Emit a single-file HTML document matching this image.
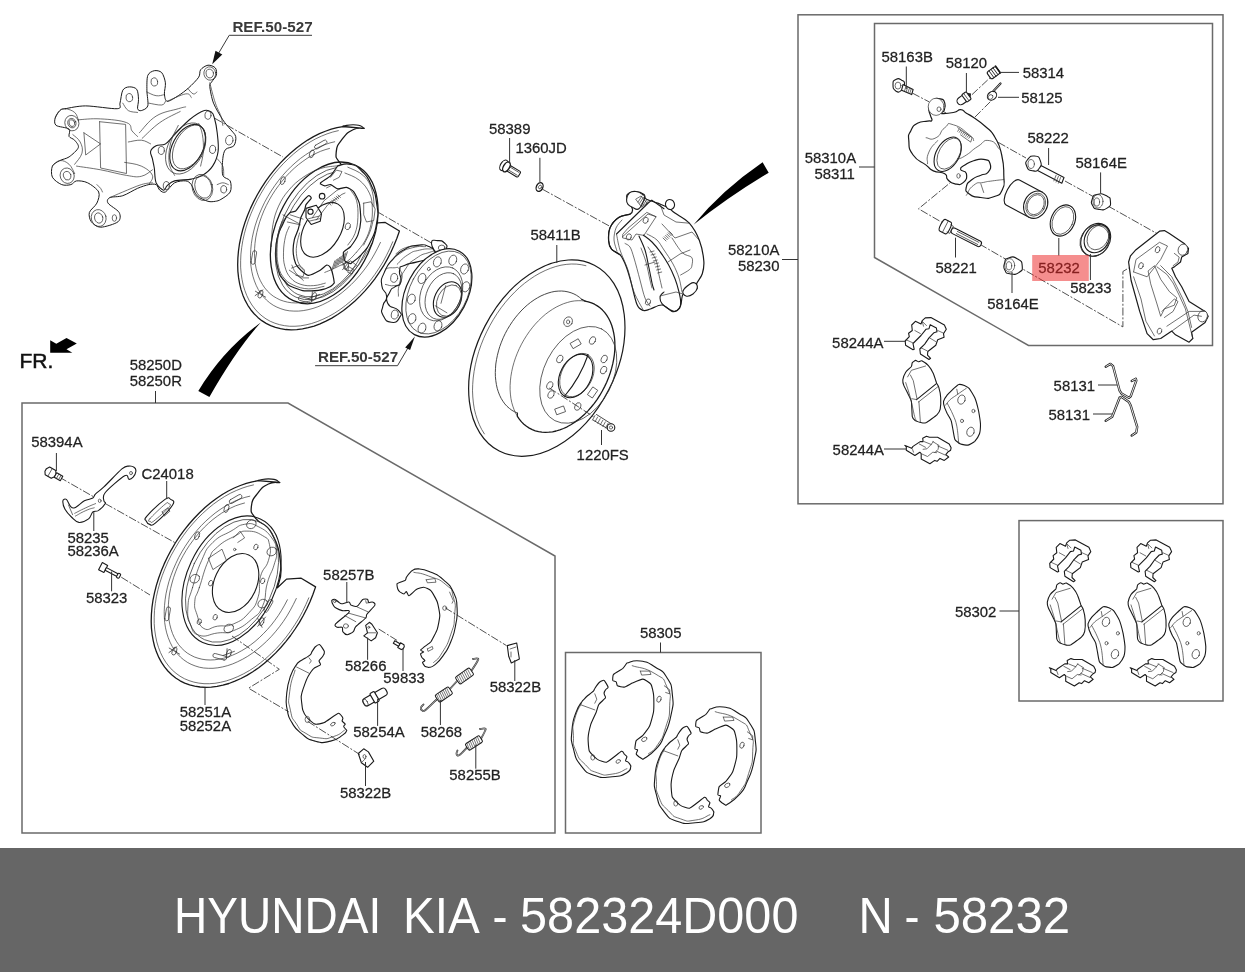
<!DOCTYPE html>
<html><head><meta charset="utf-8">
<style>
html,body{margin:0;padding:0;background:#fff;width:1245px;height:972px;overflow:hidden}
svg{display:block;will-change:transform}
text{font-family:"Liberation Sans",sans-serif}
.t{font-size:15.3px;fill:#222;stroke:#222;stroke-width:0.25}
.b{fill:none;stroke:#6a6a6a;stroke-width:1.5}
.l{fill:none;stroke:#333;stroke-width:1}
.d{fill:none;stroke:#333;stroke-width:0.85;stroke-dasharray:8 1.8 2 1.8}
.p{fill:none;stroke:#1a1a1a;stroke-width:1.1;stroke-linejoin:round;stroke-linecap:round}
.pw{fill:#fff;stroke:#1a1a1a;stroke-width:1.1;stroke-linejoin:round;stroke-linecap:round}
.f{fill:none;stroke:#333;stroke-width:0.7;stroke-linejoin:round;stroke-linecap:round}
.fw{fill:#fff;stroke:#333;stroke-width:0.7;stroke-linejoin:round;stroke-linecap:round}
</style></head><body>
<svg width="1245" height="972" viewBox="0 0 1245 972">
<rect x="0" y="0" width="1245" height="972" fill="#fff"/>
<polygon class="b" points="22,403 288,403 555,556 555,833 22,833"/>
<rect class="b" x="565.5" y="652.5" width="195.5" height="180.5"/>
<rect class="b" x="798" y="14.8" width="425" height="489"/>
<polygon class="b" points="874.5,23.5 1212.5,23.5 1212.5,345.5 1028.5,345.5 874.5,257.5"/>
<rect class="b" x="1019" y="520.6" width="204" height="180.4"/>
<!-- 10_disc.svg -->
<g id="disc">
<ellipse class="pw" cx="546.8" cy="358.1" rx="104.4" ry="69.6" transform="rotate(-62.9 546.8 358.1)"  style="stroke-width:1.2"/>
<path class="f" d="M484.4,433.9 L481.7,429.5 L479.4,424.8 L477.4,419.8 L475.7,414.5 L474.3,408.9 L473.4,403.1 L472.8,397.0 L472.5,390.8 L472.7,384.5 L473.2,378.0 L474.1,371.4 L475.3,364.8 L476.9,358.1 L478.8,351.4 L481.1,344.8 L483.7,338.3 L486.7,331.8 L489.9,325.5 L493.4,319.4 L497.2,313.4 L501.2,307.7 L505.5,302.2 L509.9,297.1 L514.6,292.2 L519.4,287.6 L524.4,283.4 L529.5,279.6 L534.7,276.1 L539.9,273.1 L545.2,270.5 L550.5,268.3 L555.8,266.5 L561.0,265.2 L566.2,264.4 L571.3,264.0 L576.3,264.1 L581.2,264.7 L585.9,265.7" />
<path class="f" d="M517.4,413.1 L514.6,411.8 L511.9,410.3 L509.4,408.4 L507.0,406.3 L504.8,403.9 L502.9,401.2 L501.1,398.3 L499.6,395.2 L498.3,391.8 L497.2,388.3 L496.4,384.6 L495.8,380.7 L495.4,376.7 L495.3,372.6 L495.5,368.3 L495.8,364.0 L496.5,359.7 L497.4,355.3 L498.5,350.9 L499.8,346.5 L501.4,342.2 L503.2,337.8 L505.2,333.6 L507.4,329.5 L509.8,325.5 L512.4,321.6 L515.1,317.9 L518.0,314.4 L521.0,311.0 L524.1,307.9 L527.3,305.0 L530.7,302.3 L534.1,299.9 L537.5,297.8 L541.0,295.9 L544.5,294.4 L548.0,293.1 L551.5,292.1 L554.9,291.4 L558.3,291.1 L561.6,291.0 L564.9,291.3 L568.0,291.9 L571.1,292.8 L573.9,293.9 L576.7,295.4 L579.3,297.2 L581.7,299.3"  style="stroke-width:0.9"/>
<path class="p" d="M581.7,299.3 L585.0,301.1"/>
<path class="p" d="M585.0,301.1 L588.3,301.8 L591.5,302.9 L594.5,304.2 L597.3,305.9 L600.0,307.8 L602.5,310.1 L604.8,312.6 L606.8,315.4 L608.7,318.5 L610.3,321.8 L611.7,325.3 L612.8,329.0 L613.7,332.9 L614.4,337.0 L614.8,341.2 L614.9,345.6 L614.8,350.0 L614.4,354.5 L613.7,359.1 L612.8,363.7 L611.6,368.4 L610.2,373.0 L608.6,377.6 L606.7,382.2 L604.6,386.6 L602.3,391.0 L599.9,395.2 L597.2,399.3 L594.3,403.3 L591.3,407.0 L588.2,410.6 L584.9,413.9 L581.5,417.0 L578.0,419.9 L574.4,422.4 L570.8,424.7 L567.2,426.8 L563.5,428.5 L559.8,429.9 L556.1,431.0 L552.5,431.8 L548.9,432.2 L545.3,432.3 L541.9,432.1 L538.6,431.6 L535.3,430.8 L532.3,429.6 L529.3,428.1 L526.5,426.3 L523.9,424.2 L521.5,421.9 L519.3,419.2 L517.4,416.3"  style="stroke-width:1.3"/>
<path class="f" d="M517.4,416.3 L515.6,413.1 L514.1,409.7 L512.8,406.1 L511.7,402.3 L510.9,398.3 L510.4,394.1 L510.1,389.8 L510.1,385.4 L510.4,380.9 L510.9,376.3 L511.7,371.7 L512.7,367.1 L514.0,362.4 L515.5,357.8 L517.3,353.2 L519.3,348.6 L521.5,344.2 L523.9,339.9 L526.5,335.7 L529.3,331.6 L532.2,327.8 L535.3,324.1 L538.5,320.7 L541.9,317.4 L545.3,314.4 L548.9,311.7 L552.5,309.3 L556.2,307.1 L559.9,305.3 L563.6,303.7 L567.3,302.5 L570.9,301.5 L574.6,300.9 L578.2,300.7 L581.6,300.7 L585.0,301.1" />
<path class="p" d="M517.4,413.1 L517.4,416.3"/>
<ellipse class="f" cx="578.3" cy="374.8" rx="51.5" ry="34.4" transform="rotate(-62.9 578.3 374.8)" />
<ellipse class="f" cx="577.0" cy="375.0" rx="23.1" ry="15.4" transform="rotate(-62.9 577.0 375.0)" />
<ellipse class="p" cx="575.6" cy="375.9" rx="23.1" ry="15.4" transform="rotate(-62.9 575.6 375.9)"  style="stroke-width:1.1"/>
<path class="p" d="M564.7,396 Q580,378 588.1,354.7"/>
<ellipse class="f" cx="568.1" cy="321.7" rx="4.2" ry="5" transform="rotate(30 568.1 321.7)"/>
<ellipse class="f" cx="568.1" cy="321.9" rx="1.6" ry="2"/>
<ellipse class="f" cx="592.5" cy="340.5" rx="2.8" ry="4" transform="rotate(25 592.5 340.5)"/>
<ellipse class="f" cx="559.8" cy="359" rx="2.8" ry="4" transform="rotate(25 559.8 359)"/>
<ellipse class="f" cx="604.2" cy="359" rx="2.8" ry="4" transform="rotate(25 604.2 359)"/>
<ellipse class="f" cx="603.6" cy="370.1" rx="2.8" ry="4" transform="rotate(25 603.6 370.1)"/>
<ellipse class="f" cx="549.8" cy="385.5" rx="2.8" ry="4" transform="rotate(25 549.8 385.5)"/>
<ellipse class="f" cx="551" cy="394.5" rx="2.8" ry="4" transform="rotate(25 551 394.5)"/>
<ellipse class="f" cx="577.8" cy="406.5" rx="2.8" ry="4" transform="rotate(25 577.8 406.5)"/>
<rect class="f" x="571.3" y="340.6" width="9" height="6" transform="rotate(-30 575.8 343.6)"/>
<rect class="f" x="588.2" y="389.3" width="9" height="6" transform="rotate(-55 592.7 392.3)"/>
<rect class="f" x="555.8" y="407.3" width="9" height="6" transform="rotate(-20 560.3 410.3)"/>
<path class="d" d="M549.4,388 L594.8,417.5"/>
<path class="f" d="M593,420 L609,429.5 M596.5,414.5 L611.5,424" style="stroke-width:0.9"/>
<path class="f" d="M595.0,415.5 l-2.5,4.5"/>
<path class="f" d="M597.6,417.1 l-2.5,4.5"/>
<path class="f" d="M600.2,418.7 l-2.5,4.5"/>
<path class="f" d="M602.8,420.3 l-2.5,4.5"/>
<path class="f" d="M605.4,421.9 l-2.5,4.5"/>
<path class="f" d="M608.0,423.5 l-2.5,4.5"/>
<circle class="pw" cx="611" cy="427.5" r="3.8"/>
<circle class="f" cx="611" cy="427.5" r="1.6"/>
<path class="l" d="M556.8,245 V263 M601.5,430 V445"/>
</g>
<!-- 15_plate.svg -->
<defs><g id="plateBase">
<path class="pw" d="M279.7,482.5 L258.1,480.7 L252.2,481.8 L246.3,483.4 L240.3,485.5 L234.3,488.0 L228.3,491.0 L222.3,494.5 L216.4,498.5 L210.7,502.8 L205.0,507.6 L199.5,512.7 L194.2,518.2 L189.1,524.0 L184.2,530.1 L179.6,536.4 L175.3,543.0 L171.3,549.8 L167.6,556.8 L164.2,563.9 L161.2,571.1 L158.6,578.3 L156.3,585.6 L154.5,592.9 L153.0,600.1 L152.0,607.2 L151.4,614.3 L151.2,621.2 L151.4,627.9 L152.1,634.3 L153.2,640.6 L154.6,646.5 L156.5,652.1 L158.8,657.4 L161.5,662.4 L164.5,666.9 L167.9,671.0 L171.7,674.7 L175.7,678.0 L180.1,680.8 L184.7,683.1 L189.6,684.9 L194.7,686.2 L200.1,687.0 L205.6,687.3 L211.3,687.1 L217.1,686.4 L222.9,685.2 L228.9,683.5 L234.9,681.2 L240.9,678.5 L246.9,675.4 L252.8,671.7 L258.7,667.7 L264.4,663.2 L270.1,658.3 L275.5,653.1 L280.8,647.5 L285.8,641.6 L290.6,635.5 L295.1,629.0 L299.4,622.4 L303.3,615.5 L306.9,608.5 L310.1,601.4 L313.0,594.2 L315.6,586.9 L301.2,578.2 L286.5,579.1 L277.4,587.7 L277.4,587.7 C278.3,581.7 282.3,579.6 280.8,565.1 C279.3,550.6 278.4,545.8 271.8,533.4 C265.1,521.0 261.4,525.9 255.9,518.7 C250.5,511.4 250.8,513.2 251.4,506.2 C252.0,499.3 253.7,498.6 258.2,492.6 C262.7,486.7 262.7,486.8 268.4,484.0 C274.1,481.3 276.7,482.9 279.7,482.5Z" style="stroke-width:1.3"/>
<path class="p" d="M279.7,482.5 C277.1,481.3 279.0,479.8 271.8,479.1 C264.6,478.3 262.7,479.8 258.2,480.2" />
<path class="f" d="M253.5,484.9 L247.8,486.3 L242.0,488.2 L236.3,490.5 L230.5,493.2 L224.8,496.4 L219.1,500.1 L213.5,504.1 L208.0,508.6 L202.7,513.4 L197.5,518.5 L192.5,524.0 L187.7,529.7 L183.2,535.8 L178.9,542.0 L175.0,548.5 L171.3,555.1 L167.9,561.9 L164.9,568.8 L162.2,575.7 L159.9,582.7 L158.0,589.7 L156.4,596.7 L155.3,603.6 L154.5,610.4 L154.2,617.1 L154.2,623.6 L154.7,629.9 L155.6,636.0 L156.8,641.9 L158.5,647.4 L160.5,652.6 L162.9,657.5 L165.7,662.1 L168.8,666.2 L172.2,670.0 L176.0,673.3 L180.0,676.2 L184.4,678.7 L189.0,680.6 L193.8,682.1 L198.8,683.1 L204.0,683.7 L209.4,683.7 L214.9,683.3 L220.6,682.3 L226.3,680.9 L232.0,679.0 L237.8,676.6 L243.6,673.8 L249.3,670.6 L255.0,666.9 L260.5,662.8 L266.0,658.3 L271.3,653.5 L276.5,648.3 L281.5,642.8 L286.2,637.0 L290.7,630.9 L294.9,624.6 L298.9,618.2 L302.5,611.5 L305.8,604.7 L308.8,597.8"/>
<path class="f" d="M249.8,496.2 L244.9,497.4 L239.9,499.1 L234.9,501.1 L229.9,503.6 L224.9,506.4 L220.0,509.6 L215.1,513.1 L210.4,517.0 L205.7,521.2 L201.2,525.7 L196.9,530.5 L192.8,535.5 L188.9,540.8 L185.2,546.3 L181.8,551.9 L178.6,557.7 L175.8,563.6 L173.2,569.6 L170.9,575.6 L168.9,581.7 L167.3,587.8 L166.0,593.8 L165.1,599.8 L164.5,605.7 L164.2,611.5 L164.3,617.1 L164.7,622.6 L165.5,627.8 L166.7,632.9 L168.2,637.6 L170.0,642.1 L172.1,646.3 L174.6,650.2 L177.3,653.8 L180.4,657.0 L183.7,659.8 L187.3,662.3 L191.1,664.3 L195.1,665.9 L199.3,667.2 L203.7,668.0 L208.3,668.3 L213.0,668.3 L217.8,667.8 L222.7,666.9 L227.7,665.6 L232.7,663.9 L237.7,661.7 L242.7,659.2 L247.7,656.3 L252.6,653.0 L257.4,649.4 L262.1,645.4 L266.7,641.2 L271.2,636.6 L275.4,631.8 L279.5,626.7 L283.4,621.4 L287.0,615.9 L290.3,610.2 L293.4,604.4 L296.3,598.5"/>
<path class="f" d="M244.5,503.0 L240.0,504.3 L235.4,505.9 L230.8,508.0 L226.3,510.4 L221.7,513.1 L217.3,516.2 L212.9,519.5 L208.6,523.2 L204.4,527.2 L200.4,531.4 L196.6,535.9 L192.9,540.6 L189.4,545.4 L186.1,550.5 L183.1,555.7 L180.3,561.0 L177.8,566.4 L175.6,571.9 L173.6,577.5 L172.0,583.0 L170.6,588.5 L169.5,594.0 L168.8,599.5 L168.4,604.8 L168.3,610.0 L168.5,615.1 L169.0,620.0 L169.9,624.8 L171.1,629.3 L172.5,633.5 L174.3,637.5 L176.4,641.3 L178.7,644.7 L181.3,647.8 L184.2,650.6 L187.3,653.1 L190.7,655.1 L194.2,656.9 L198.0,658.2 L201.9,659.2 L206.0,659.8 L210.2,660.0 L214.5,659.8 L218.9,659.2 L223.4,658.3 L227.9,657.0 L232.5,655.2 L237.1,653.2 L241.7,650.7 L246.2,648.0 L250.6,644.9 L255.0,641.5 L259.3,637.7 L263.4,633.7 L267.4,629.5 L271.3,625.0 L274.9,620.3 L278.4,615.4 L281.6,610.3 L284.6,605.1 L287.4,599.8"/>
<rect class="f" x="228.6" y="497.0" width="14" height="4" rx="2" transform="rotate(-30 235.6 499.0)"/>
<rect class="f" x="160.6" y="611.8" width="14" height="4" rx="2" transform="rotate(-80 167.6 613.8)"/>
<rect class="f" x="261.4" y="603.8" width="14" height="4" rx="2" transform="rotate(-60 268.4 605.8)"/>
<rect class="f" x="212.7" y="654.8" width="14" height="4" rx="2" transform="rotate(-165 219.7 656.8)"/>
<ellipse class="f" cx="226.5" cy="508.5" rx="2.2" ry="4.2" transform="rotate(20 226.5 508.5)"/>
<ellipse class="f" cx="174.4" cy="651.1" rx="2.2" ry="4.2" transform="rotate(20 174.4 651.1)"/>
<ellipse class="f" cx="228.8" cy="653.4" rx="2.2" ry="4.2" transform="rotate(20 228.8 653.4)"/>
<ellipse class="f" cx="261.6" cy="621.7" rx="2.2" ry="4.2" transform="rotate(20 261.6 621.7)"/>
<ellipse class="f" cx="197.1" cy="535.7" rx="2.2" ry="4.2" transform="rotate(20 197.1 535.7)"/>
<path class="f" d="M168.4,651.1 h12 M174.4,646.1 l-4,9" transform="rotate(30 174.4 651.1)"/>
<path class="f" d="M222.8,653.4 h12 M228.8,648.4 l-4,9" transform="rotate(-20 228.8 653.4)"/>
<path class="f" d="M255.6,621.7 h12 M261.6,616.7 l-4,9" transform="rotate(-50 261.6 621.7)"/>
</g><g id="plateDrum">
<ellipse class="p" cx="231.5" cy="580.7" rx="44.5" ry="68.2" transform="rotate(-155 231.5 580.7)"/>
<ellipse class="f" cx="232" cy="580.8" rx="41.5" ry="65" transform="rotate(-155 232 580.8)"/>
<path class="f" d="M192.5,587.7 C196.2,575.7 196.2,572.6 201.6,560.6 C207.0,548.5 205.1,550.3 212.9,542.4 C220.8,534.6 222.6,536.0 231.0,531.1 C239.5,526.3 237.4,525.5 244.6,524.3 C251.9,523.1 251.0,523.0 258.2,526.6 C265.4,530.2 267.0,531.3 271.8,537.9 C276.6,544.6 275.7,544.3 276.3,551.5 C276.9,558.7 276.5,556.6 274.0,565.1 C271.6,573.5 270.3,572.3 267.3,583.2 C264.2,594.1 267.0,596.2 262.7,605.8 C258.5,615.5 259.3,612.8 251.4,619.4 C243.6,626.1 242.4,627.1 233.3,630.7 C224.2,634.4 226.5,631.8 217.4,633.0 C208.4,634.2 206.6,637.7 199.3,635.3 C192.1,632.9 193.3,631.8 190.3,624.0 C187.3,616.1 187.4,615.5 188.0,605.8 C188.6,596.2 188.9,599.8 192.5,587.7Z" />
<path class="f" d="M199.3,587.7 C203.0,576.9 203.6,571.4 208.4,560.6 C213.2,549.7 210.2,553.6 217.4,547.0 C224.7,540.3 227.7,539.9 235.6,535.7 C243.4,531.4 239.6,531.1 246.9,531.1 C254.1,531.1 256.7,532.0 262.7,535.7 C268.8,539.3 268.0,538.1 269.5,544.7 C271.0,551.4 270.8,552.1 268.4,560.6 C266.0,569.0 263.2,566.7 260.5,576.4 C257.7,586.1 261.2,587.1 258.2,596.8 C255.2,606.4 255.8,605.4 249.1,612.6 C242.5,619.9 241.7,620.3 233.3,624.0 C224.8,627.6 225.3,625.0 217.4,626.2 C209.6,627.4 209.3,631.5 203.9,628.5 C198.4,625.5 199.5,622.1 197.1,614.9 C194.7,607.6 194.2,608.6 194.8,601.3 C195.4,594.1 195.7,598.6 199.3,587.7Z" />
<ellipse class="p" cx="235.6" cy="583" rx="21.1" ry="31" transform="rotate(-154.9 235.6 583)"/>
<ellipse class="f" cx="251.4" cy="524.3" rx="5.0" ry="4.1" transform="rotate(-30 251.4 524.3)"/>
<ellipse class="f" cx="271.8" cy="551.5" rx="5.0" ry="4.1" transform="rotate(-30 271.8 551.5)"/>
<ellipse class="f" cx="262.7" cy="603.6" rx="5.0" ry="4.1" transform="rotate(-30 262.7 603.6)"/>
<ellipse class="f" cx="228.8" cy="628.5" rx="5.0" ry="4.1" transform="rotate(-30 228.8 628.5)"/>
<ellipse class="f" cx="194.8" cy="578.7" rx="5.0" ry="4.1" transform="rotate(-30 194.8 578.7)"/>
<ellipse class="f" cx="210.7" cy="583.2" rx="2.0" ry="2.9" transform="rotate(20 210.7 583.2)"/>
<ellipse class="f" cx="255.9" cy="547.0" rx="2.0" ry="2.9" transform="rotate(20 255.9 547.0)"/>
<ellipse class="f" cx="262.7" cy="580.9" rx="2.0" ry="2.9" transform="rotate(20 262.7 580.9)"/>
<ellipse class="f" cx="215.2" cy="617.2" rx="2.0" ry="2.9" transform="rotate(20 215.2 617.2)"/>
<ellipse class="f" cx="199.3" cy="621.7" rx="2.0" ry="2.9" transform="rotate(20 199.3 621.7)"/>
<path class="f" d="M208.4,558.3 L222.0,549.2 L226.5,560.6 L212.9,569.6 L208.4,558.3" />
<path class="f" d="M233.3,537.9 L240.1,531.1 L244.6,537.9 L237.8,542.4" />
<circle class="f" cx="234.7" cy="549.5" r="1.2"/>
</g></defs>
<use href="#plateBase"/><use href="#plateDrum"/>
<use href="#plateBase" transform="translate(88.9,-346.5) scale(0.984)"/>
<!-- 16_topshoes.svg -->
<g id="topshoes">
<ellipse class="p" cx="324.2" cy="232.9" rx="48.4" ry="74.5" transform="rotate(-155.5 324.2 232.9)" style="stroke-width:1.3"/>
<ellipse class="f" cx="325" cy="233.5" rx="44.5" ry="70" transform="rotate(-155.5 325 233.5)"/>
<ellipse class="f" cx="325.5" cy="234" rx="41.5" ry="66.5" transform="rotate(-155.5 325.5 234)"/>
<path class="pw" d="M286.7,216.2 C285.6,218.5 285.6,217.7 282.9,223.9 C280.2,230.1 279.8,228.3 277.7,236.8 C275.6,245.2 275.8,242.9 275.8,252.2 C275.8,261.5 275.2,259.1 277.7,267.6 C280.2,276.1 278.7,274.3 284.2,280.5 C289.6,286.7 287.6,285.1 295.7,288.2 C303.8,291.3 301.9,290.8 311.2,290.8 C320.4,290.8 319.7,290.5 326.6,288.2 C333.6,285.9 332.0,284.6 334.3,283.1 L334.3,283.1 C334.2,282.3 333.4,276.9 333.0,275.3 C332.7,273.8 331.1,268.7 330.5,267.6 C329.8,266.6 327.6,264.8 326.6,265.1 C325.6,265.3 322.0,269.2 320.2,270.2 C318.4,271.2 310.5,275.3 308.6,275.3 C306.7,275.3 302.2,271.4 300.9,270.2 C299.6,269.0 296.5,265.6 295.7,263.8 C295.0,262.0 293.3,254.6 293.2,252.2 C293.0,249.7 293.9,241.6 294.4,239.3 C295.0,237.0 297.8,230.6 298.3,229.0 C298.8,227.5 299.3,225.0 299.6,223.9 C299.8,222.7 300.4,218.9 300.9,217.5 C301.4,216.0 304.2,211.0 304.7,209.7 C305.3,208.4 305.4,205.7 306.0,204.6 C306.7,203.4 310.9,199.1 311.2,198.2 C311.4,197.3 309.4,195.3 308.6,195.6 C307.8,195.8 304.3,199.7 303.4,200.7 C302.5,201.8 300.4,204.8 299.6,205.9 C298.8,206.9 296.6,210.4 295.7,211.0 C294.8,211.7 291.5,211.8 290.6,212.3 C289.7,212.8 287.1,215.8 286.7,216.2Z" style="stroke-width:1.2"/>
<path class="f" d="M284.2,218.7 C283.1,221.6 280.4,227.0 279.0,232.9 C277.6,238.8 277.3,242.2 277.1,248.3 C276.9,254.5 276.8,258.1 278.0,263.8 C279.1,269.4 279.8,272.4 282.9,276.6 C285.9,280.9 288.0,282.6 293.2,285.0 C298.3,287.4 302.4,288.6 308.6,288.9 C314.8,289.1 320.9,286.8 324.0,286.3" />
<path class="f" d="M282.9,214.9 L299.6,223.9" />
<path class="f" d="M289.3,270.2 L300.9,277.9 L308.6,277.9" />
<path class="f" d="M291.9,265.1 C292.6,266.6 293.4,269.7 295.7,272.8 C298.0,275.9 301.9,278.9 303.4,280.5" />
<ellipse class="p" cx="322.5" cy="229.8" rx="18" ry="30" transform="rotate(-148.9 322.5 229.8)"/>
<path class="pw" d="M306.0,208.4 L316.3,205.2 L321.5,213.6 L320.2,221.3 L311.2,224.5 L306.0,217.5Z" />
<circle class="p" cx="310.5" cy="211.7" r="2.6"/>
<path class="f" d="M308.6,218.7 L318.9,216.2" />
<path class="f" d="M308.6,221.3 L319.5,218.7" />
<path class="f" d="M320.2,184.0 L330.5,180.1 L331.8,185.3 L326.6,187.9" />
<circle class="p" cx="322.1" cy="196.2" r="2.8"/>
<path class="f" d="M312.5,217.5 L324.0,200.7 L336.9,190.4 L345.0,186.6" />
<path class="f" d="M316.3,220.0 L327.9,204.6 L342.0,194.3 L345.0,193.0" />
<path class="f" d="M328.5,202.7 L331.1,205.2"/>
<path class="f" d="M330.1,201.4 L332.7,203.9"/>
<path class="f" d="M331.6,200.1 L334.2,202.7"/>
<path class="f" d="M333.2,198.8 L335.7,201.4"/>
<path class="f" d="M334.7,197.5 L337.3,200.1"/>
<path class="f" d="M336.3,196.2 L338.8,198.8"/>
<path class="f" d="M337.8,194.9 L340.4,197.5"/>
<path class="pw" d="M337.7,165.8 C341.6,165.3 343.3,162.6 350.7,164.3 C358.0,166.1 356.2,165.5 362.2,171.5 C368.3,177.6 366.5,175.0 370.9,184.5 C375.2,194.0 374.9,191.6 376.6,203.2 C378.4,214.9 378.4,212.2 376.6,223.4 C374.9,234.6 375.2,231.6 370.9,240.7 C366.5,249.8 368.3,246.7 362.2,253.7 C356.2,260.6 354.1,260.7 350.7,263.7 L350.7,263.7 C350.1,263.5 345.6,262.0 344.9,260.9 C344.2,259.7 342.9,253.7 343.5,252.2 C344.1,250.8 349.3,248.2 350.7,246.5 C352.1,244.7 356.9,237.5 357.9,234.9 C358.9,232.3 360.6,223.7 360.8,220.5 C360.9,217.3 360.1,206.1 359.3,203.2 C358.6,200.3 354.9,193.3 353.6,191.7 C352.3,190.1 348.0,187.7 346.4,187.4 C344.8,187.1 339.3,189.1 337.7,188.8 C336.1,188.5 331.8,184.8 330.5,184.5 C329.2,184.2 325.8,186.1 324.8,185.9 C323.7,185.8 319.9,184.1 320.4,183.1 C321.0,182.0 328.8,177.6 330.5,175.9 C332.2,174.1 337.0,166.8 337.7,165.8Z" style="stroke-width:1.2"/>
<path class="f" d="M347.8,167.2 C351.0,168.9 358.8,171.0 363.7,175.9 C368.6,180.7 370.3,184.5 372.3,191.7 C374.3,198.9 374.0,204.4 373.7,211.9 C373.5,219.4 372.9,222.5 370.9,229.2 C368.8,235.8 365.1,241.8 363.7,245.0" />
<path class="fw" d="M363.7,203.2 L370.9,201.8 L375.2,209.0 L373.7,220.5 L366.5,222.0 L363.7,214.8 L363.7,203.2Z" />
<ellipse class="f" cx="347.8" cy="226.3" rx="2.5" ry="3.5" transform="rotate(20 347.8 226.3)"/>
<path class="f" d="M332.0,269.5 L334.8,260.9"/>
<path class="f" d="M333.5,268.4 L336.4,259.7"/>
<path class="f" d="M335.1,267.2 L338.0,258.6"/>
<path class="f" d="M336.7,266.1 L339.6,257.4"/>
<path class="f" d="M338.3,264.9 L341.2,256.3"/>
<path class="f" d="M339.9,263.7 L342.8,255.1"/>
<path class="f" d="M341.5,262.6 L344.4,253.9"/>
<path class="f" d="M343.1,261.4 L345.9,252.8"/>
<path class="f" d="M344.6,260.3 L347.5,251.6"/>
<path class="f" d="M324.8,272.4 C326.8,271.5 330.2,270.4 334.8,268.1 C339.5,265.8 343.5,264.0 347.8,260.9 C352.1,257.7 354.7,253.9 356.5,252.2" />
<path class="f" d="M348.5,266.6 L353.6,269.5 L352.1,273.8 L347.8,272.4 L348.5,266.6" />
<path class="f" d="M289.3,226.5 C288.5,228.5 286.6,231.6 285.4,236.8 C284.3,241.9 283.6,246.3 283.5,252.2 C283.4,258.1 283.4,261.2 284.8,266.3 C286.2,271.5 287.4,274.3 290.6,277.9 C293.8,281.5 296.2,282.8 300.9,284.4 C305.5,285.9 308.9,285.9 313.7,285.6 C318.6,285.4 323.0,283.6 325.3,283.1" />
<path class="f" d="M299.6,232.9 C299.1,235.0 297.7,239.1 297.0,243.2 C296.4,247.3 296.0,249.4 296.4,253.5 C296.8,257.6 297.3,260.4 298.9,263.8 C300.6,267.1 303.6,268.9 304.7,270.2" />
<path class="f" d="M282.2,221.3 C281.3,224.1 278.9,229.3 277.7,235.5 C276.6,241.6 276.5,245.8 276.4,252.2 C276.4,258.6 276.0,262.0 277.5,267.6 C278.9,273.3 282.3,277.9 283.5,280.5" />
<path class="f" d="M344.9,173.0 C347.8,174.4 354.4,176.1 359.3,180.2 C364.2,184.2 366.8,187.7 369.4,193.1 C372.0,198.6 372.0,201.2 372.3,207.6 C372.6,213.9 372.3,218.2 370.9,224.8 C369.4,231.5 368.0,235.2 365.1,240.7 C362.2,246.2 358.2,249.9 356.5,252.2" />
<path class="f" d="M350.7,190.3 C351.8,192.3 355.0,194.9 356.5,200.3 C357.9,205.8 358.2,211.0 357.9,217.6 C357.6,224.3 357.0,228.0 355.0,233.5 C353.0,239.0 349.3,242.7 347.8,245.0" />
<path class="f" d="M271.4,246.5 C271.7,242.1 271.4,232.9 272.9,224.8 C274.3,216.8 275.5,213.0 278.6,206.1 C281.8,199.2 283.8,196.0 288.7,190.3 C293.6,184.5 296.8,181.6 303.1,177.3 C309.5,173.0 313.5,171.0 320.4,168.6 C327.3,166.3 334.3,166.3 337.7,165.8" />
<path class="f" d="M290.2,214.8 L303.1,219.1" />
<path class="f" d="M287.3,222.0 L300.3,224.8" />
<path class="f" d="M330.5,177.3 L336.3,170.1 L342.0,171.5 L339.2,177.3 L333.4,180.2" />
<path class="f" d="M342.0,265.2 L350.7,260.9 L356.5,265.2 L350.7,271.0 L344.9,269.5" />
<path class="f" d="M291.6,268.1 L298.8,265.2 L304.6,271.0 L303.1,276.7 L295.9,275.3" />
</g>
<!-- 20_knuckle.svg -->
<g id="knuckle" style="stroke-width:0.9">
<path class="pw" d="M65.4,108.7 C69.3,108.0 78.0,105.9 85.7,105.9 C93.5,105.9 112.1,109.1 117.2,108.7 C122.4,108.3 119.2,105.9 120.0,103.1 C120.8,100.4 121.4,92.6 122.8,90.2 C124.2,87.7 127.2,87.0 129.3,86.9 C131.3,86.7 135.3,87.4 136.7,89.3 C138.1,91.1 138.4,96.5 138.5,99.4 C138.7,102.4 137.2,107.0 137.6,108.7 C138.0,110.4 139.8,111.0 141.3,110.6 C142.8,110.1 146.9,109.0 147.8,105.9 C148.6,102.9 146.9,94.8 146.9,90.2 C146.9,85.6 146.7,78.3 147.8,75.4 C148.9,72.5 152.2,71.2 154.3,70.7 C156.3,70.3 160.0,70.8 161.7,72.6 C163.3,74.4 165.0,79.6 165.4,82.8 C165.8,86.0 164.2,91.1 164.4,93.9 C164.7,96.7 165.1,101.0 167.2,101.3 C169.3,101.6 175.1,97.7 178.3,95.7 C181.5,93.7 185.5,90.7 188.5,88.0 C191.6,85.2 196.9,79.9 198.7,77.2 C200.5,74.5 199.2,71.6 200.6,69.8 C201.9,68.0 205.7,65.5 208.0,65.2 C210.2,64.9 214.1,66.4 215.4,68.0 C216.6,69.5 216.9,73.3 216.3,75.4 C215.7,77.5 212.6,80.2 211.7,81.9 C210.7,83.5 209.5,83.3 209.8,86.5 C210.1,89.7 211.6,98.1 213.5,103.1 C215.5,108.1 220.3,115.9 222.8,119.8 C225.3,123.7 228.2,126.6 230.2,129.1 C232.1,131.6 235.2,134.0 235.7,136.5 C236.3,139.0 235.4,143.8 233.9,145.7 C232.4,147.7 227.2,147.5 225.6,149.4 C223.9,151.4 223.2,154.8 222.8,158.7 C222.4,162.6 221.7,172.0 222.8,175.4 C223.9,178.7 229.1,178.4 230.2,180.9 C231.3,183.4 231.6,189.3 230.2,192.0 C228.8,194.8 223.1,198.1 220.9,199.4 C218.7,200.8 217.3,201.0 215.4,201.3 C213.4,201.6 210.7,202.1 208.0,201.3 C205.2,200.5 199.4,198.2 196.9,195.7 C194.4,193.2 193.0,186.9 191.3,184.6 C189.6,182.4 188.2,181.2 185.7,180.9 C183.2,180.6 177.7,181.1 174.6,182.8 C171.6,184.4 167.6,190.9 165.4,192.0 C163.1,193.1 161.2,191.3 159.8,190.2 C158.4,189.1 157.8,185.5 156.1,184.6 C154.4,183.8 151.5,184.1 148.7,184.6 C145.9,185.2 141.5,186.7 137.6,188.3 C133.7,190.0 126.9,194.4 122.8,195.7 C118.6,197.1 112.0,196.5 109.8,197.6 C107.6,198.7 106.6,200.9 108.0,203.1 C109.4,205.4 117.5,209.6 119.1,212.4 C120.6,215.2 120.9,219.4 118.1,221.7 C115.4,223.9 104.6,227.2 100.6,227.2 C96.5,227.2 93.0,223.9 91.3,221.7 C89.6,219.4 88.6,215.2 89.4,212.4 C90.3,209.6 95.5,206.2 96.9,203.1 C98.2,200.1 100.1,195.1 98.7,192.0 C97.3,189.0 90.9,184.4 87.6,182.8 C84.3,181.1 79.0,180.6 76.5,180.9 C74.0,181.2 73.1,184.1 70.9,184.6 C68.7,185.2 64.4,185.7 61.7,184.6 C58.9,183.5 53.8,180.0 52.4,177.2 C51.0,174.4 51.3,168.6 52.4,166.1 C53.5,163.6 57.3,161.9 59.8,160.6 C62.3,159.2 66.3,158.8 69.1,156.9 C71.9,154.9 77.5,150.1 78.3,147.6 C79.2,145.1 76.0,141.9 74.6,140.2 C73.2,138.5 69.9,138.1 69.1,136.5 C68.2,134.8 71.0,130.7 69.1,129.1 C67.1,127.4 58.2,127.0 56.1,125.4 C54.0,123.7 54.6,120.2 55.2,118.0 C55.7,115.7 58.3,111.9 59.8,110.6 C61.3,109.2 61.5,109.4 65.4,108.7Z" style="stroke-width:1.0"/>
<ellipse class="f" cx="71.9" cy="123.1" rx="7.0" ry="7.8" transform="rotate(-20 71.9 123.1)"/>
<ellipse class="f" cx="71.9" cy="123.1" rx="4.1" ry="4.8" transform="rotate(-20 71.9 123.1)"/>
<ellipse class="f" cx="71.9" cy="123.1" rx="2.8" ry="3.5" transform="rotate(-20 71.9 123.1)"/>
<path class="f" d="M55.2,118.0 C56.1,116.5 57.8,112.4 59.8,110.6 C61.9,108.7 62.4,108.3 65.4,108.7 C68.3,109.1 72.0,110.2 74.6,112.4 C77.2,114.6 77.6,118.3 78.3,119.8" />
<ellipse class="f" cx="67.2" cy="175.7" rx="7.0" ry="7.8" transform="rotate(-20 67.2 175.7)"/>
<ellipse class="f" cx="67.2" cy="175.7" rx="3.7" ry="4.4" transform="rotate(-20 67.2 175.7)"/>
<path class="f" d="M52.4,166.1 C53.9,165.0 56.5,160.9 59.8,160.6 C63.1,160.2 66.1,161.7 69.1,164.3 C72.0,166.9 73.5,171.7 74.6,173.5" />
<ellipse class="f" cx="98.7" cy="218.0" rx="7.4" ry="8.5" transform="rotate(-15 98.7 218.0)"/>
<ellipse class="f" cx="98.7" cy="218.0" rx="4.1" ry="5.2" transform="rotate(-15 98.7 218.0)"/>
<ellipse class="f" cx="114.4" cy="218.0" rx="2.2" ry="3.3" transform="rotate(0 114.4 218.0)"/>
<ellipse class="f" cx="129.3" cy="97.6" rx="3.3" ry="4.1" transform="rotate(-10 129.3 97.6)"/>
<ellipse class="f" cx="154.3" cy="81.9" rx="3.3" ry="4.1" transform="rotate(-10 154.3 81.9)"/>
<ellipse class="f" cx="209.8" cy="73.5" rx="3.7" ry="4.4" transform="rotate(-10 209.8 73.5)"/>
<ellipse class="f" cx="209.8" cy="73.5" rx="5.9" ry="6.7" transform="rotate(-10 209.8 73.5)"/>
<ellipse class="f" cx="229.3" cy="140.2" rx="3.7" ry="4.8" transform="rotate(10 229.3 140.2)"/>
<ellipse class="f" cx="223.7" cy="189.3" rx="3.0" ry="3.7" transform="rotate(10 223.7 189.3)"/>
<path class="f" d="M122.8,103.1 C123.9,104.6 125.4,108.7 128.3,110.6 C131.3,112.4 135.7,112.0 137.6,112.4" />
<path class="f" d="M146.9,92.0 C148.7,92.8 152.8,95.2 156.1,95.7 C159.4,96.3 162.0,95.0 163.5,94.8" />
<path class="f" d="M148.7,103.1 C151.3,103.5 158.3,105.4 161.7,105.0 C165.0,104.6 164.6,102.0 165.4,101.3" />
<path class="f" d="M78.3,119.8 C82.8,119.6 90.9,118.3 100.6,118.9 C110.2,119.4 120.2,120.2 126.5,122.6 C132.8,125.0 129.8,128.1 132.0,130.9 C134.3,133.7 136.5,135.4 137.6,136.5" />
<path class="f" d="M99.6,121.7 L125.6,124.4 L126.5,173.5 L100.6,168.0 L99.6,121.7" />
<path class="f" d="M83.9,132.8 L100.6,143.9 L85.7,155.0 L83.9,132.8" />
<path class="f" d="M72.8,134.6 C74.3,136.1 78.3,138.3 80.2,142.0 C82.0,145.7 83.1,148.7 82.0,153.1 C80.9,157.6 76.1,162.0 74.6,164.3" />
<path class="f" d="M76.5,166.1 C81.3,166.9 90.6,168.0 100.6,169.8 C110.6,171.7 118.3,174.1 126.5,175.4 C134.6,176.7 136.1,177.4 141.3,176.3 C146.5,175.2 150.2,171.1 152.4,169.8" />
<path class="f" d="M128.3,142.0 C130.9,141.7 136.9,139.8 141.3,140.2 C145.7,140.6 148.7,143.1 150.6,143.9" />
<path class="f" d="M124.6,162.4 C128.0,163.1 135.7,163.5 141.3,166.1 C146.9,168.7 150.9,171.7 152.4,175.4 C153.9,179.1 149.4,182.8 148.7,184.6" />
<path class="f" d="M139.4,132.8 C142.8,129.4 148.3,120.9 156.1,116.1 C163.9,111.3 172.4,110.6 178.3,108.7 C184.3,106.9 184.3,107.2 185.7,106.9" />
<path class="f" d="M142.2,138.3 C145.7,135.2 152.2,128.0 159.8,122.6 C167.4,117.2 176.1,113.7 180.2,111.5" />
<path class="f" d="M167.2,101.3 C170.9,99.8 180.9,94.6 185.7,93.9 C190.6,93.1 190.2,96.9 191.3,97.6" />
<path class="f" d="M187.6,88.3 C188.7,89.4 191.3,93.1 193.1,93.9 C195.0,94.6 196.1,92.4 196.9,92.0" />
<path class="pw" d="M150.6,151.3 C151.2,149.1 153.6,147.0 156.1,145.7 C158.6,144.5 162.3,145.7 165.4,143.9 C168.5,142.0 170.6,138.6 174.6,134.6 C178.6,130.6 184.5,123.8 189.4,119.8 C194.4,115.8 200.6,111.8 204.3,110.6 C208.0,109.3 210.0,111.2 211.7,112.4 C213.4,113.6 213.5,114.6 214.4,118.0 C215.4,121.4 216.6,127.2 217.2,132.8 C217.8,138.3 218.9,145.7 218.1,151.3 C217.4,156.9 215.2,162.1 212.6,166.1 C210.0,170.1 206.0,173.2 202.4,175.4 C198.9,177.5 195.9,178.1 191.3,179.1 C186.7,180.0 178.6,179.8 174.6,180.9 C170.6,182.0 169.1,184.0 167.2,185.6 C165.4,187.1 165.4,190.6 163.5,190.2 C161.7,189.7 157.7,186.5 156.1,182.8 C154.6,179.1 154.9,172.0 154.3,168.0 C153.6,164.0 153.0,161.5 152.4,158.7 C151.8,155.9 149.9,153.5 150.6,151.3Z" />
<ellipse class="f" cx="208.0" cy="115.2" rx="3.1" ry="4.1" transform="rotate(10 208.0 115.2)"/>
<ellipse class="f" cx="161.3" cy="150.4" rx="3.1" ry="4.1" transform="rotate(10 161.3 150.4)"/>
<ellipse class="f" cx="166.3" cy="185.6" rx="3.1" ry="4.1" transform="rotate(10 166.3 185.6)"/>
<ellipse class="f" cx="212.6" cy="149.4" rx="3.1" ry="4.1" transform="rotate(10 212.6 149.4)"/>
<ellipse class="f" cx="185.7" cy="148.5" rx="17.6" ry="27.4" transform="rotate(28 185.7 148.5)"/>
<ellipse class="p" cx="187.6" cy="147.6" rx="15.2" ry="25.0" transform="rotate(28 187.6 147.6)"/>
<ellipse class="f" cx="189.1" cy="146.9" rx="14.1" ry="23.7" transform="rotate(28 189.1 146.9)"/>
<path class="f" d="M178.3,125.4 C176.9,128.7 172.8,134.6 170.9,142.0 C169.1,149.4 168.3,155.7 169.1,162.4 C169.8,169.1 173.5,172.8 174.6,175.4" />
<path class="f" d="M198.7,123.5 C199.4,125.7 201.5,129.1 202.4,134.6 C203.3,140.2 203.7,145.0 203.3,151.3 C203.0,157.6 201.1,163.1 200.6,166.1" />
<ellipse class="f" cx="202.4" cy="187.4" rx="10.2" ry="13.3" transform="rotate(-15 202.4 187.4)"/>
<ellipse class="f" cx="203.3" cy="186.9" rx="8.3" ry="11.5" transform="rotate(-15 203.3 186.9)"/>
<path class="f" d="M209.8,82.8 C210.9,86.9 213.1,96.5 215.4,103.1 C217.6,109.8 219.4,111.7 220.9,116.1 C222.4,120.6 222.4,123.5 222.8,125.4" />
<path class="f" d="M217.2,158.7 C218.3,160.2 221.5,162.8 222.8,166.1 C224.1,169.4 223.5,173.5 223.7,175.4" />
<path class="f" d="M217.2,184.6 C218.3,184.3 220.6,182.8 222.8,182.8 C225.0,182.8 227.2,184.3 228.3,184.6" />
<path class="f" d="M109.8,197.6 C112.4,196.5 116.5,194.6 122.8,192.0 C129.1,189.4 135.4,186.5 141.3,184.6 C147.2,182.8 150.2,183.1 152.4,182.8" />
<path class="f" d="M96.9,184.6 C97.6,185.4 99.4,186.9 100.6,188.3 C101.7,189.8 102.0,191.3 102.4,192.0" />
</g>
<!-- 30_hub.svg -->
<g id="hub">
<path class="pw" d="M436.2,253.7 C434.7,250.1 431.1,247.3 431.5,243.0 C431.9,238.7 433.1,240.6 437.4,240.6 C441.8,240.6 441.6,240.3 444.5,243.0 C447.5,245.8 447.5,245.4 446.3,248.9 C445.1,252.5 445.9,250.5 441.0,253.7 C436.0,256.8 439.4,255.6 431.5,258.4 C423.6,261.1 426.4,259.6 417.3,261.9 C408.2,264.3 410.2,262.7 404.3,265.5 C398.4,268.2 400.8,264.7 399.6,270.2 C398.4,275.7 402.3,276.5 400.8,282.0 C399.2,287.6 398.4,283.6 394.8,286.8 C391.3,289.9 392.5,286.0 390.1,291.5 C387.7,297.0 385.0,297.0 387.7,303.3 C390.5,309.6 394.4,305.7 398.4,310.4 C402.3,315.2 401.9,313.6 399.6,317.5 C397.2,321.5 396.8,323.0 391.3,322.3 C385.8,321.5 385.8,320.7 383.0,315.2 C380.3,309.6 381.8,312.0 383.0,305.7 C384.2,299.4 387.0,302.9 386.6,296.2 C386.2,289.5 382.6,293.5 381.8,285.6 C381.0,277.7 380.3,281.6 384.2,272.6 C388.1,263.5 386.6,266.3 393.7,258.4 C400.8,250.5 397.6,253.3 405.5,248.9 C413.4,244.6 409.4,246.2 417.3,245.4 C425.2,244.6 422.8,243.8 429.1,246.6 C435.4,249.3 433.9,251.3 436.2,253.7 C438.6,256.0 437.8,257.2 436.2,253.7Z" />
<ellipse class="f" cx="441.6" cy="247.7" rx="3.3" ry="2.6" transform="rotate(-10 441.6 247.7)"/>
<ellipse class="f" cx="394.2" cy="277.9" rx="3.5" ry="4.5" transform="rotate(10 394.2 277.9)"/>
<ellipse class="f" cx="394.8" cy="314.6" rx="3.5" ry="4.5" transform="rotate(10 394.8 314.6)"/>
<path class="f" d="M385.4,269.0 C387.7,268.6 387.5,267.5 392.5,267.8 C397.4,268.2 397.4,265.5 400.2,270.2 C402.9,274.9 402.5,276.9 400.8,282.0 C399.0,287.2 400.0,284.8 394.8,285.6 C389.7,286.4 388.5,284.8 385.4,284.4" />
<path class="f" d="M396.0,253.7 C399.2,251.7 398.4,250.3 405.5,247.7 C412.6,245.2 413.4,246.6 417.3,246.0" />
<path class="f" d="M388.9,263.1 C392.5,260.0 391.7,258.8 399.6,253.7 C407.5,248.5 403.9,250.1 412.6,247.7 C421.3,245.4 421.3,247.0 425.6,246.6" />
<path class="f" d="M397.2,264.3 C400.8,261.1 400.4,259.6 407.8,254.8 C415.3,250.1 411.8,252.1 419.7,250.1 C427.6,248.1 427.6,249.3 431.5,248.9" />
<path class="f" d="M398.4,296.2 C398.8,291.9 397.2,292.3 399.6,283.2 C401.9,274.2 400.0,277.3 405.5,269.0 C411.0,260.8 408.2,263.9 416.1,258.4 C424.0,252.9 422.4,254.8 429.1,252.5 C435.8,250.1 433.9,251.7 436.2,251.3" />
<ellipse class="pw" cx="436.9" cy="292.9" rx="30.5" ry="47.4" transform="rotate(-151.7 436.9 292.9)" style="stroke-width:1.2"/>
<ellipse class="f" cx="438.5" cy="292.5" rx="28.5" ry="44.5" transform="rotate(-151.7 438.5 292.5)"/>
<ellipse class="f" cx="437.4" cy="261.9" rx="3.8" ry="5.2" transform="rotate(20 437.4 261.9)"/>
<ellipse class="f" cx="452.8" cy="260.2" rx="3.8" ry="5.2" transform="rotate(20 452.8 260.2)"/>
<ellipse class="f" cx="464.6" cy="269.0" rx="3.8" ry="5.2" transform="rotate(20 464.6 269.0)"/>
<ellipse class="f" cx="422.0" cy="278.5" rx="3.8" ry="5.2" transform="rotate(20 422.0 278.5)"/>
<ellipse class="f" cx="411.4" cy="299.2" rx="3.8" ry="5.2" transform="rotate(20 411.4 299.2)"/>
<ellipse class="f" cx="412.0" cy="318.7" rx="3.8" ry="5.2" transform="rotate(20 412.0 318.7)"/>
<ellipse class="f" cx="422.0" cy="328.2" rx="3.8" ry="5.2" transform="rotate(20 422.0 328.2)"/>
<ellipse class="f" cx="438.0" cy="325.8" rx="3.8" ry="5.2" transform="rotate(20 438.0 325.8)"/>
<ellipse class="f" cx="465.8" cy="286.8" rx="3.8" ry="5.2" transform="rotate(20 465.8 286.8)"/>
<ellipse class="f" cx="428.8" cy="269.0" rx="1.4" ry="1.7" transform="rotate(20 428.8 269.0)"/>
<ellipse class="f" cx="441.2" cy="293.8" rx="28.3" ry="20.0" transform="rotate(-65.7 441.2 293.8)"/>
<ellipse class="f" cx="443.5" cy="296" rx="24.5" ry="17.0" transform="rotate(-65.7 443.5 296)"/>
<ellipse class="p" cx="447.6" cy="299.5" rx="18.7" ry="13.0" transform="rotate(-64.3 447.6 299.5)"/>
<ellipse class="f" cx="449" cy="300.5" rx="16.5" ry="11.5" transform="rotate(-64.3 449 300.5)"/>
<path class="f" d="M435.1,305.7 L446.9,312.8 M445.7,285.6 L441.0,303.3"/>
</g>
<!-- 40_caliper.svg -->
<g id="caliper">
<path class="pw" d="M627.4,200.2 C626.6,197.8 626.0,195.8 627.4,194.4 C628.8,193.0 633.2,191.5 636.0,191.5 C638.8,191.5 642.3,193.2 644.0,194.5 C645.7,195.8 643.8,197.6 646.1,199.0 C648.4,200.4 654.0,201.7 657.6,203.1 C661.2,204.5 664.8,205.7 667.7,207.4 C670.6,209.1 671.3,210.5 674.9,213.1 C678.5,215.7 685.2,218.6 689.3,223.2 C693.4,227.8 697.0,234.2 699.4,240.5 C701.8,246.8 703.3,255.2 703.8,260.7 C704.3,266.2 703.5,269.8 702.3,273.7 C701.1,277.6 697.5,281.2 696.6,283.8 C695.7,286.4 698.2,287.3 697.0,289.0 C695.8,290.7 691.6,292.9 689.3,293.8 C686.9,294.7 684.3,292.6 682.9,294.5 C681.5,296.4 681.7,302.8 680.7,305.4 C679.7,308.0 678.5,309.4 677.0,310.4 C675.5,311.4 674.5,312.4 672.0,311.5 C669.5,310.6 665.6,305.4 662.0,305.0 C658.4,304.6 653.5,308.1 650.4,309.0 C647.3,309.9 645.7,311.2 643.5,310.5 C641.3,309.8 639.1,309.6 637.0,304.6 C634.9,299.6 632.4,287.0 630.6,280.6 C628.8,274.2 627.7,270.3 626.0,266.0 C624.3,261.7 622.6,257.7 620.2,254.9 C617.8,252.1 613.4,251.6 611.5,249.2 C609.6,246.8 608.8,244.1 608.6,240.5 C608.4,236.9 608.4,231.4 610.1,227.6 C611.8,223.8 615.3,219.8 618.7,217.5 C622.1,215.2 628.0,215.3 630.3,213.9 C632.6,212.5 632.9,211.1 632.4,208.8 C631.9,206.5 628.2,202.6 627.4,200.2Z" style="stroke-width:1.2"/>
<path class="p" d="M620.2,254.9 C618.8,253.9 613.4,251.6 611.5,249.2 C609.6,246.8 608.8,244.1 608.6,240.5 C608.4,236.9 608.4,231.4 610.1,227.6 C611.8,223.8 615.3,219.8 618.7,217.5 C622.1,215.2 628.4,214.5 630.3,213.9" />
<path class="f" d="M617.0,251.0 C616.5,249.2 614.2,243.8 614.0,240.0 C613.8,236.2 614.7,231.3 616.0,228.0 C617.3,224.7 621.0,221.3 622.0,220.0" />
<path class="p" d="M616.5,234.0 L648.2,203.0 L651.8,200.1 L664.0,208.8" />
<path class="f" d="M622.3,236.9 L648.0,214.0 L656.0,216.7" />
<path class="f" d="M623.0,234.0 L628.0,228.2 L646.8,212.4 L656.1,216.7 L643.9,235.4 L636.0,234.0 L632.0,240.0 L623.0,238.0Z" />
<ellipse class="f" cx="645.7" cy="220.3" rx="2.4" ry="3.2" transform="rotate(25 645.7 220.3)"/>
<ellipse class="f" cx="628.8" cy="236.9" rx="2.4" ry="3.2" transform="rotate(25 628.8 236.9)"/>
<ellipse class="f" cx="648" cy="302" rx="2.4" ry="3.2" transform="rotate(25 648 302)"/>
<path class="pw" d="M628.0,204.4 C626.8,202.8 626.3,201.7 626.6,199.4 C626.9,197.1 627.6,194.5 629.5,192.9 C631.4,191.3 633.4,191.2 636.0,191.5 C638.6,191.8 640.8,193.1 642.5,194.4 C644.2,195.7 645.3,195.1 644.6,198.0 C643.9,200.9 641.3,206.9 638.9,208.8 C636.5,210.7 634.6,208.2 632.4,207.3 C630.2,206.4 629.2,206.0 628.0,204.4Z" />
<path class="f" d="M636.0,199.0 L641.0,196.0 L647.0,203.0 L642.0,207.0Z" />
<path class="f" d="M642.0,196.0 l-4,6"/>
<path class="f" d="M643.6,197.2 l-4,6"/>
<path class="f" d="M645.2,198.4 l-4,6"/>
<path class="f" d="M646.8,199.6 l-4,6"/>
<path class="f" d="M648.4,200.8 l-4,6"/>
<path class="f" d="M625.0,243.5 C625.8,244.1 628.5,244.6 630.0,247.0 C631.5,249.4 632.3,252.5 634.0,258.0 C635.7,263.5 638.2,273.3 640.0,280.0 C641.8,286.7 643.3,293.7 645.0,298.0 C646.7,302.3 649.2,304.7 650.0,306.0" />
<path class="f" d="M616.5,234.0 C617.1,236.7 618.1,244.0 620.0,250.0 C621.9,256.0 625.7,263.0 628.0,270.0 C630.3,277.0 631.4,285.2 634.0,292.0 C636.6,298.8 641.9,307.4 643.5,310.5" />
<path class="p" d="M643.5,235.2 C644.9,236.3 649.2,239.2 652.0,242.0 C654.8,244.8 657.5,248.1 660.2,251.9 C663.0,255.7 666.0,260.3 668.5,264.8 C671.0,269.3 673.2,274.2 675.0,278.7 C676.8,283.2 678.1,288.3 679.0,292.0 C679.9,295.7 680.5,298.2 680.6,300.9 C680.7,303.6 680.9,306.6 679.6,308.3 C678.4,310.0 676.0,311.9 673.1,311.1 C670.2,310.3 664.1,306.2 662.0,303.7 C659.9,301.2 659.9,298.2 660.2,296.3 C660.5,294.4 663.4,292.7 664.0,292.0" />
<path class="f" d="M647.0,234.0 C648.7,235.0 654.2,237.3 657.0,240.0 C659.8,242.7 661.3,246.0 664.0,250.0 C666.7,254.0 670.5,259.3 673.0,264.0 C675.5,268.7 677.5,273.3 679.0,278.0 C680.5,282.7 681.5,289.7 682.0,292.0" />
<path class="p" d="M639.0,236.0 C640.0,238.3 643.3,244.7 645.0,250.0 C646.7,255.3 647.8,262.5 649.0,268.0 C650.2,273.5 651.2,279.3 652.0,283.0 C652.8,286.7 653.7,288.8 654.0,290.0" />
<path class="f" d="M641.0,248.0 C641.8,250.3 644.5,256.7 646.0,262.0 C647.5,267.3 649.0,275.7 650.0,280.0 C651.0,284.3 651.7,286.7 652.0,288.0" />
<path class="f" d="M648.0,247.0 C649.3,249.2 654.2,255.3 656.0,260.0 C657.8,264.7 658.0,270.3 659.0,275.0 C660.0,279.7 661.5,285.8 662.0,288.0" />
<path class="f" d="M645.0,265.0 L655.0,262.0" />
<path class="f" d="M650.0,252.0 l4,-1"/>
<path class="f" d="M651.1,255.0 l4,-1"/>
<path class="f" d="M652.2,258.0 l4,-1"/>
<path class="f" d="M653.3,261.0 l4,-1"/>
<path class="f" d="M654.4,264.0 l4,-1"/>
<path class="f" d="M655.5,267.0 l4,-1"/>
<path class="f" d="M656.6,270.0 l4,-1"/>
<path class="f" d="M657.7,273.0 l4,-1"/>
<path class="f" d="M660.0,204.0 L664.0,215.0 L676.0,222.0 L689.3,223.2" />
<path class="f" d="M662.0,224.0 L675.0,238.0 L692.0,232.0 L699.0,240.0" />
<path class="f" d="M672.0,238.0 C673.7,240.5 679.1,249.6 682.4,252.8 C685.7,256.0 690.1,255.4 691.7,257.4 C693.3,259.4 692.3,263.0 692.0,265.0 C691.7,267.0 691.7,267.7 689.8,269.4 C687.9,271.1 682.1,274.1 680.6,275.0" />
<path class="f" d="M668.0,262.0 L680.0,254.0 L690.0,250.0" />
<ellipse class="pw" cx="670" cy="204.5" rx="4.5" ry="5" transform="rotate(-20 670 204.5)"/>
<path class="f" d="M663.0,238.0 l3,3"/>
<path class="f" d="M664.3,236.7 l3,3"/>
<path class="f" d="M665.6,235.4 l3,3"/>
<path class="f" d="M666.9,234.1 l3,3"/>
<path class="f" d="M668.2,232.8 l3,3"/>
<path class="f" d="M669.5,231.5 l3,3"/>
<path class="pw" d="M683.0,291.0 C683.8,288.6 687.6,285.6 690.0,284.0 C692.4,282.4 693.6,282.2 695.0,283.0 C696.4,283.8 697.6,285.8 697.2,288.0 C696.8,290.2 695.2,292.4 693.0,294.0 C690.8,295.6 688.0,296.6 686.0,296.0 C684.0,295.4 682.2,293.4 683.0,291.0Z" />
<path class="f" d="M660.0,296.0 L676.0,292.0 L683.0,294.0" />
</g>
<!-- 50_misc.svg -->
<g id="misc">
<path d="M693.5,224.7 Q722,190 762.6,162.2 L768.7,172.7 Q728,197 693.5,224.7 Z" fill="#000"/>
<path d="M260.8,322.5 Q223,350 198.3,391 L209.4,397 Q236,350 260.8,322.5 Z" fill="#000"/>
<text x="232.4" y="32" font-size="15.2" font-weight="bold" fill="#3a3a3a">REF.50-527</text>
<path class="l" d="M312,35.3 H229.2 L214,61" style="stroke:#3a3a3a"/>
<path d="M212.2,64.3 L215.5,50.8 L222.3,54.6 Z" fill="#111"/>
<text x="318" y="362.1" font-size="15.2" font-weight="bold" fill="#3a3a3a">REF.50-527</text>
<path class="l" d="M315.1,365.7 H397.5 L412,341" style="stroke:#3a3a3a"/>
<path d="M414.9,336.4 L405.2,347.4 L410.1,349.9 Z" fill="#111"/>
<text x="19.5" y="367.8" font-size="21" fill="#111" stroke="#111" stroke-width="0.5">FR.</text>
<path d="M50.2,340.3 L56.3,343.8 L66.5,338 L76.8,343.5 L66.5,349.3 L72.3,352.8 L50.2,352.8 Z" fill="#000"/>
<!-- dashed center lines top -->
<path class="d" d="M214.8,118.3 L283,157"/>
<path class="d" d="M377,211.6 L431.5,243"/>
<path class="d" d="M542.4,189.2 L609.3,226"/>
<!-- bolt 58389 -->
<g transform="rotate(31 507 167)">
<rect class="pw" x="507" y="164" width="14.5" height="6.5" rx="1.5"/>
<path class="f" d="M510,165.5 h10 M510,168.8 h10"/>
<ellipse class="pw" cx="503.5" cy="167.2" rx="3.4" ry="5.8"/>
<ellipse class="pw" cx="506.5" cy="167.2" rx="3" ry="5.4" style="stroke-width:1.4"/>
</g>
<ellipse class="p" cx="539.6" cy="187" rx="3.2" ry="4.6" transform="rotate(25 539.6 187)" style="stroke-width:1.3"/>
<ellipse class="f" cx="540" cy="187" rx="1.4" ry="2" transform="rotate(30 540 187)"/>
<path class="l" d="M509.6,138 V163 M539.9,157.8 V182"/>
</g>

<!-- 60_rbox.svg -->
<g id="rbox">
<path class="d" d="M912.4,93.1 L929,101.8 M939,109 L1026,158 M1065,181 L1094,197 M1108,206 L1158,234.1"/>
<path class="d" d="M958.5,175.9 L918.5,208.8 L1122.9,326.9 L1122.9,271.5 L1132,266"/>
<path class="d" d="M962,104 L993,75 M975,117 L992,100"/>
<path class="pw" d="M908.8,140.6 C908.1,133.3 908.4,135.7 911.0,130.5 C913.5,125.4 912.5,126.2 917.4,123.3 C922.4,120.5 923.2,122.1 927.5,121.2 C931.8,120.3 931.0,122.2 931.8,120.5 C932.7,118.7 931.3,119.3 930.4,115.4 C929.5,111.5 928.1,112.0 928.9,107.5 C929.8,103.0 929.8,102.9 933.3,100.3 C936.7,97.7 937.0,98.0 940.5,98.9 C943.9,99.7 943.7,99.7 944.8,103.2 C945.9,106.6 945.4,107.4 944.1,110.4 C942.8,113.4 937.7,112.6 940.5,113.3 C943.3,113.9 947.4,113.6 953.4,112.5 C959.5,111.5 956.7,109.5 960.6,109.7 C964.5,109.9 962.5,110.9 966.4,113.3 C970.3,115.6 968.0,113.7 973.6,117.6 C979.2,121.5 978.6,120.2 985.1,126.2 C991.6,132.3 990.2,129.1 995.2,137.7 C1000.1,146.4 999.1,143.8 1001.7,155.0 C1004.2,166.2 1003.6,164.8 1003.8,175.2 C1004.0,185.5 1005.4,183.1 1002.4,189.6 C999.3,196.0 1000.2,194.4 993.7,196.8 C987.3,199.1 988.1,198.4 980.8,197.5 C973.4,196.6 973.6,197.1 969.3,193.9 C964.9,190.7 965.5,191.0 966.4,186.7 C967.2,182.4 967.8,182.9 972.1,179.5 C976.5,176.0 976.0,177.3 980.8,175.2 C985.5,173.0 985.2,175.8 988.0,172.3 C990.8,168.8 991.4,167.5 990.1,163.7 C988.8,159.8 988.6,160.2 983.7,159.3 C978.7,158.5 979.2,159.0 973.6,160.8 C968.0,162.5 968.8,162.5 964.9,165.1 C961.1,167.7 960.2,166.8 960.6,169.4 C961.1,172.0 965.5,169.8 966.4,173.7 C967.2,177.6 967.0,179.3 963.5,182.4 C960.0,185.4 959.6,184.7 954.9,183.8 C950.1,182.9 950.7,182.5 947.7,179.5 C944.6,176.5 949.1,176.3 944.8,173.7 C940.5,171.1 938.9,173.4 933.3,170.9 C927.7,168.3 932.1,169.8 926.1,165.1 C920.0,160.3 918.3,162.4 913.1,155.0 C907.9,147.7 909.4,148.0 908.8,140.6Z" style="stroke-width:1.2"/>
<ellipse class="fw" cx="936.1" cy="106.8" rx="7.9" ry="8.6" transform="rotate(0 936.1 106.8)"/>
<ellipse class="f" cx="939.0" cy="109.2" rx="2.0" ry="2.3" transform="rotate(0 939.0 109.2)"/>
<ellipse class="p" cx="947.7" cy="154.3" rx="11.5" ry="18.7" transform="rotate(30 947.7 154.3)"/>
<ellipse class="f" cx="949.1" cy="153.6" rx="10.1" ry="17.0" transform="rotate(30 949.1 153.6)"/>
<path class="f" d="M926.1,137.7 C929.4,137.7 929.9,141.1 936.1,137.7 C942.4,134.4 939.0,132.0 944.8,127.7 C950.5,123.3 945.3,122.4 953.4,124.8 C961.6,127.2 962.5,129.6 969.3,134.9 C976.0,140.1 972.1,138.7 973.6,140.6" />
<path class="f" d="M957.7,127.7 L972.1,137.7 L970.7,142.1 L960.6,134.9" />
<path class="f" d="M959.2,129.1 L957.7,131.3"/>
<path class="f" d="M960.8,130.1 L959.3,132.3"/>
<path class="f" d="M962.3,131.1 L960.9,133.3"/>
<path class="f" d="M963.9,132.1 L962.5,134.3"/>
<path class="f" d="M965.5,133.1 L964.1,135.3"/>
<path class="f" d="M967.1,134.1 L965.7,136.3"/>
<path class="f" d="M968.7,135.2 L967.2,137.3"/>
<path class="f" d="M970.3,136.2 L968.8,138.3"/>
<path class="f" d="M957.7,159.3 C960.6,157.9 959.7,159.3 966.4,155.0 C973.1,150.7 970.2,151.2 977.9,146.4 C985.6,141.6 982.2,139.7 989.4,140.6 C996.6,141.6 996.1,146.4 999.5,149.3" />
<path class="f" d="M966.4,195.3 C968.8,192.0 967.8,189.6 973.6,185.3 C979.3,180.9 977.4,183.8 983.7,182.4 C989.9,180.9 985.6,181.9 992.3,180.9 C999.0,180.0 1000.0,180.0 1003.8,179.5" />
<path class="f" d="M980.8,183.8 L983.7,192.5" />
<ellipse class="f" cx="958.5" cy="175.9" rx="1.7" ry="2.3" transform="rotate(0 958.5 175.9)"/>
<path class="f" d="M927.5,163.7 C928.0,159.8 925.6,159.8 928.9,152.1 C932.3,144.5 934.7,144.5 937.6,140.6" />
<path class="pw" d="M893.0,84.5 C893.0,80.6 893.0,80.9 895.8,79.4 C898.7,78.0 898.7,78.5 901.6,80.2 C904.5,81.8 904.5,81.1 904.5,84.5 C904.5,87.8 904.5,88.1 901.6,90.2 C898.7,92.4 898.7,92.9 895.8,91.0 C893.0,89.0 893.0,88.3 893.0,84.5Z" />
<path class="pw" d="M903.0,84.5 L913.1,89.5 L911.7,94.6 L901.6,90.2Z" />
<path class="f" d="M905.9,86.6 L904.5,91.0"/>
<path class="f" d="M907.6,87.5 L906.2,91.8"/>
<path class="f" d="M909.4,88.4 L907.9,92.7"/>
<path class="f" d="M911.1,89.2 L909.7,93.5"/>
<ellipse class="f" cx="898.0" cy="85.6" rx="2.9" ry="3.5" transform="rotate(0 898.0 85.6)"/>
<g transform="rotate(-36 964.5 98)"><rect class="pw" x="956" y="94.5" width="11" height="7.5" rx="3.7"/><rect class="pw" x="964" y="93.8" width="5.5" height="9" rx="1"/><path class="f" d="M966.5,93.8 v9"/><path d="M969.5,95 l3,3.2 l-3,3.2 Z" fill="#222"/></g>
<g transform="rotate(-36 993.5 72.8)"><rect class="pw" x="988" y="68.5" width="11" height="8.5" rx="2"/><path class="f" d="M991,68.5 v8.5 M993.5,68.5 v8.5 M996,68.5 v8.5" style="stroke-width:0.9"/><path class="p" d="M999,68.5 v8.5" style="stroke-width:1.6"/></g>
<ellipse class="pw" cx="992" cy="95.8" rx="5" ry="4" transform="rotate(-40 992 95.8)"/>
<ellipse class="f" cx="990.5" cy="97" rx="2.6" ry="2.2" transform="rotate(-40 990.5 97)"/>
<path d="M993.5,91 L1000.5,83.5" fill="none" stroke="#222" stroke-width="2.2" stroke-linecap="round"/><path d="M993.5,91 L1000.5,83.5" fill="none" stroke="#fff" stroke-width="0.7"/>
<path class="l" d="M906.3,66.5 V89 M966.4,73 V92.4 M1000,72.4 H1019 M998,97.3 H1019 M1048.6,148 V165 M1100.6,172.4 V193.4"/>
<path class="pw" d="M1038.0,164.0 L1064.0,177.5 L1061.8,183.2 L1035.7,169.6Z" />
<path class="pw" d="M1027.8,159.4 C1030.5,156.0 1030.5,155.7 1034.6,156.0 C1038.8,156.4 1038.8,156.4 1040.3,160.6 C1041.8,164.7 1041.8,165.1 1039.1,168.5 C1036.5,171.9 1036.5,171.5 1032.3,170.7 C1028.2,170.0 1028.2,170.0 1026.7,166.2 C1025.2,162.4 1025.2,162.8 1027.8,159.4Z" />
<ellipse class="f" cx="1031.2" cy="164.0" rx="3.2" ry="4.5" transform="rotate(0 1031.2 164.0)"/>
<path class="f" d="M1056.1,175.3 L1053.9,180.9"/>
<path class="f" d="M1058.4,176.4 L1056.1,182.1"/>
<path class="f" d="M1060.6,177.5 L1058.4,183.2"/>
<path class="pw" d="M1092.3,199.0 C1093.7,195.3 1092.3,195.6 1096.9,194.5 C1101.4,193.4 1101.4,193.4 1105.9,195.6 C1110.4,197.9 1110.1,197.1 1110.4,201.3 C1110.8,205.4 1111.2,205.4 1107.0,208.1 C1102.9,210.7 1102.7,210.0 1098.0,209.2 C1093.2,208.5 1094.7,209.2 1092.8,205.8 C1090.9,202.4 1091.0,202.8 1092.3,199.0Z" />
<ellipse class="f" cx="1098.0" cy="201.3" rx="5.0" ry="6.8" transform="rotate(0 1098.0 201.3)"/>
<ellipse class="f" cx="1096.9" cy="202.0" rx="2.7" ry="4.1" transform="rotate(0 1096.9 202.0)"/>
<g transform="rotate(28 1035.7 204.7)">
<path class="pw" d="M1035.7,190.5 L1009.7,190.5 A6,14 0 0 0 1009.7,218.9 L1035.7,218.9 Z"/>
<ellipse class="pw" cx="1035.7" cy="204.7" rx="11.5" ry="14.2"/>
<ellipse class="f" cx="1035.7" cy="204.7" rx="9.3" ry="12"/>
<ellipse class="f" cx="1035.7" cy="204.7" rx="8" ry="10.5"/>
</g>
<ellipse class="p" cx="1062.9" cy="220.5" rx="11.8" ry="16.3" transform="rotate(25 1062.9 220.5)"/>
<ellipse class="f" cx="1062.9" cy="220.5" rx="10.0" ry="14.5" transform="rotate(25 1062.9 220.5)"/>
<ellipse class="p" cx="1095.7" cy="239.8" rx="14.0" ry="17.2" transform="rotate(32 1095.7 239.8)"/>
<ellipse class="p" cx="1096.9" cy="238.6" rx="11.8" ry="14.9" transform="rotate(32 1096.9 238.6)"/>
<ellipse class="f" cx="1094.6" cy="240.9" rx="14.0" ry="16.3" transform="rotate(32 1094.6 240.9)"/>
<ellipse class="f" cx="1098.0" cy="237.5" rx="10.0" ry="13.1" transform="rotate(32 1098.0 237.5)"/>
<path class="pw" d="M1004.5,263.5 C1005.7,259.4 1004.2,259.4 1008.6,257.9 C1013.0,256.4 1013.1,256.4 1017.6,259.0 C1022.2,261.7 1021.8,261.3 1022.2,265.8 C1022.5,270.3 1022.9,270.0 1018.8,272.6 C1014.6,275.2 1014.3,274.5 1009.7,273.7 C1005.1,273.0 1006.7,273.7 1005.0,270.3 C1003.2,266.9 1003.3,267.7 1004.5,263.5Z" />
<ellipse class="f" cx="1009.7" cy="265.4" rx="5.0" ry="6.8" transform="rotate(0 1009.7 265.4)"/>
<ellipse class="f" cx="1009.0" cy="265.8" rx="2.7" ry="4.1" transform="rotate(0 1009.0 265.8)"/>
<path class="l" d="M1058.8,238 V255.6 M1090.4,254 V280 M1012,272 V293"/>
<g transform="rotate(27 948 228)"><rect class="pw" x="952" y="225" width="33" height="6" rx="2.5"/><path class="f" d="M958,226.8 h24 M958,229.2 h24"/><path class="pw" d="M942,221.5 h6 a2,6.5 0 0 1 0,13 h-6 a2,6.5 0 0 1 0,-13 Z"/><path class="f" d="M945,221.5 v13 M949,224 h3 v8 h-3"/></g>
<path class="l" d="M955.5,237.7 V257.5"/>
<path class="pw" d="M1128.6,262.0 L1130.5,255.8 L1136.0,249.7 L1159.5,231.2 L1164.4,230.6 L1169.4,233.6 L1184.2,243.5 L1188.5,248.4 L1187.9,253.4 L1181.7,257.1 L1180.5,262.0 L1174.3,266.9 L1171.8,268.2 L1175.5,276.8 L1181.7,286.7 L1189.1,301.5 L1205.1,311.4 L1208.2,316.3 L1205.1,322.5 L1191.6,332.3 L1192.8,338.5 L1189.1,342.2 L1175.5,334.8 L1171.8,331.1 L1160.7,338.5 L1153.3,339.7 L1147.1,333.6 L1139.7,311.4 L1131.1,280.5Z" style="stroke-width:1.2;stroke-linejoin:round"/>
<path class="f" d="M1133.6,271.9 L1136.0,259.5 L1159.5,242.3 L1167.5,246.0 L1160.7,259.5 L1147.1,276.8 L1133.6,271.9" />
<ellipse class="f" cx="1157.6" cy="249.7" rx="2.2" ry="3.2" transform="rotate(20 1157.6 249.7)"/>
<ellipse class="f" cx="1141.0" cy="265.7" rx="2.2" ry="3.2" transform="rotate(20 1141.0 265.7)"/>
<path class="f" d="M1148.4,270.7 L1154.5,265.7 L1160.7,279.3 L1169.4,291.6 L1176.8,297.8 L1174.3,305.2 L1164.4,308.9 L1160.7,316.3 L1157.0,304.0 L1150.8,284.2Z" />
<path class="f" d="M1133.6,276.8 L1141.0,299.0 L1145.9,321.2 L1154.5,336.0" />
<path class="f" d="M1157.0,266.9 L1166.9,274.4 L1173.1,283.0 L1179.2,295.3 L1185.4,308.9 L1189.1,323.7 L1192.8,338.5" />
<path class="f" d="M1160.7,265.7 L1171.8,276.8 L1176.8,286.7 L1182.9,299.0 L1187.9,311.4 L1191.6,327.4" />
<ellipse class="fw" cx="1182.9" cy="249.7" rx="4.7" ry="5.7" transform="rotate(20 1182.9 249.7)"/>
<ellipse class="fw" cx="1202.7" cy="316.3" rx="4.7" ry="5.7" transform="rotate(20 1202.7 316.3)"/>
<path class="f" d="M1161.9,311.4 L1168.1,305.2 L1174.3,299.0 L1178.0,301.5 L1173.1,311.4 L1164.4,317.5" />
<path class="f" d="M1166.9,326.2 L1189.1,311.4 L1205.1,311.4" />
<path class="f" d="M1171.8,331.1 L1194.0,315.1 L1201.4,316.3" />
<ellipse class="f" cx="1159.5" cy="331.1" rx="2.2" ry="3.0" transform="rotate(20 1159.5 331.1)"/>
<path class="f" d="M1174.3,253.4 L1179.2,257.1 L1178.0,262.0 L1173.1,265.7" />
</g>
<!-- 65_pads.svg -->
<defs><g id="padset">
<path class="pw" d="M905.2,341.0 L909.3,336.7 L908.6,333.3 L912.3,330.5 L911.7,325.0 L915.4,321.3 L921.0,324.0 L922.2,320.6 L925.3,317.9 L930.9,317.6 L944.4,325.0 L946.3,329.3 L943.5,333.6 L944.1,337.3 L937.7,339.8 L935.8,345.3 L927.8,351.5 L927.5,355.2 L930.6,358.3 L929.0,359.5 L920.4,354.0 L919.8,349.0 L924.7,344.1 L929.0,337.9 L934.0,332.7 L937.0,331.8 L936.4,328.0 L930.2,324.7 L929.0,328.7 L925.9,329.3 L921.0,335.5 L913.0,343.5 L914.2,349.3 L913.0,349.7 L905.6,345.3Z" style="stroke-width:1.1"/>
<path class="f" d="M906.2,339.8 L913.0,342.9" />
<path class="f" d="M914.8,330.5 L920.4,333.6" />
<path class="f" d="M922.8,321.9 L926.5,325.6" />
<path class="f" d="M921.0,347.8 L927.2,350.9" />
<path class="f" d="M929.6,337.9 L935.8,341.6" />
<path class="f" d="M937.7,330.5 L943.2,333.0" />
<path class="f" d="M922.2,321.3 L923.5,326.2" />
<path class="pw" d="M902.8,379.8 C903.0,378.7 905.0,373.3 905.7,372.2 C906.4,371.1 910.8,367.3 911.4,366.5 C911.9,365.7 911.9,363.2 912.3,362.7 C912.7,362.2 915.1,360.4 915.6,360.4 C916.1,360.3 917.9,361.7 918.5,361.8 C919.0,361.8 920.9,360.5 921.8,360.8 C922.6,361.2 927.4,364.5 928.4,365.6 C929.3,366.6 932.5,371.7 933.1,373.1 C933.8,374.6 936.0,381.4 936.4,382.6 C936.9,383.8 938.5,386.1 938.8,387.3 C939.2,388.6 940.6,395.9 940.7,397.8 C940.8,399.6 940.5,407.7 940.2,409.1 C939.9,410.5 938.1,413.7 936.9,414.8 C935.8,415.9 927.8,421.7 926.5,422.4 C925.2,423.0 922.7,423.0 921.8,422.8 C920.8,422.7 915.9,421.0 915.1,420.5 C914.4,420.0 912.6,418.3 912.3,416.7 C912.0,415.1 911.7,403.4 911.4,401.5 C911.0,399.7 909.1,396.3 908.5,394.9 C907.9,393.6 904.3,386.7 903.8,385.4 C903.3,384.2 902.7,380.9 902.8,379.8Z" style="stroke-width:1.1"/>
<path class="f" d="M905.7,382.6 C906.6,385.6 908.7,391.3 910.4,397.8 C912.1,404.2 913.1,410.2 914.2,414.8 C915.3,419.3 915.7,419.3 916.1,420.5" />
<path class="f" d="M907.6,376.9 L911.4,370.3 L925.6,366.0" />
<path class="f" d="M910.4,375.0 L913.3,380.7 L917.0,398.7" />
<path class="p" d="M916.6,399.6 L936.4,383.6" />
<path class="f" d="M918.5,402.0 L938.3,386.4" />
<path class="f" d="M918.9,401.5 L920.4,422.4" />
<path class="f" d="M911.8,398.7 L916.6,399.6" />
<path class="pw" d="M943.5,401.5 C943.8,400.5 946.5,395.9 947.3,394.9 C948.1,393.9 952.1,390.1 953.0,389.2 C954.0,388.4 957.7,384.8 958.7,384.5 C959.6,384.2 963.5,385.1 964.4,385.4 C965.2,385.8 968.2,387.3 969.1,388.3 C970.0,389.3 974.0,395.9 974.8,397.8 C975.6,399.6 978.1,408.8 978.6,411.0 C979.0,413.2 980.4,422.4 980.5,424.3 C980.5,426.1 980.0,432.3 979.5,433.7 C979.0,435.1 975.7,440.3 974.8,441.3 C973.8,442.2 969.3,444.8 968.1,445.1 C967.0,445.3 961.7,444.6 960.6,444.1 C959.5,443.7 955.5,440.6 954.9,439.4 C954.3,438.2 953.3,431.5 953.0,429.9 C952.7,428.4 951.6,421.8 951.1,420.5 C950.6,419.1 947.9,414.9 947.3,413.8 C946.8,412.7 944.8,408.2 944.5,407.2 C944.2,406.2 943.3,402.6 943.5,401.5Z" style="stroke-width:1.1"/>
<path class="f" d="M945.4,405.3 C946.4,404.2 947.9,401.7 950.2,399.6 C952.4,397.6 953.6,397.2 956.8,394.9 C960.0,392.6 964.4,389.6 966.3,388.3" />
<path class="f" d="M947.3,403.4 C948.5,405.7 951.1,410.2 953.0,414.8 C954.9,419.3 955.7,420.5 956.8,426.1 C957.9,431.8 958.3,439.8 958.7,443.2" />
<path class="f" d="M956.8,389.2 L957.7,394.0" />
<ellipse class="f" cx="961.5" cy="399.6" rx="3.6" ry="4.7" transform="rotate(20 961.5 399.6)"/>
<ellipse class="f" cx="970.5" cy="431.8" rx="3.6" ry="4.7" transform="rotate(20 970.5 431.8)"/>
<ellipse class="f" cx="973.4" cy="411.0" rx="1.5" ry="1.7" transform="rotate(0 973.4 411.0)"/>
<ellipse class="f" cx="962.0" cy="420.9" rx="1.5" ry="1.7" transform="rotate(0 962.0 420.9)"/>
<path class="pw" d="M904.8,445.4 L906.3,446.9 L906.3,450.2 L914.9,455.5 L919.8,452.2 L921.2,453.6 L921.2,458.9 L929.9,463.7 L934.7,460.4 L937.1,461.3 L940.0,458.4 L944.3,460.4 L948.7,457.0 L945.8,454.6 L948.2,451.7 L950.6,450.2 L951.1,447.8 L949.2,444.0 L937.6,437.2 L929.4,437.2 L926.5,436.3 L922.7,438.2 L923.1,441.6 L920.2,441.6 L913.0,446.4 L911.6,448.3 L906.3,445.9Z" style="stroke-width:1.1"/>
<path class="f" d="M919.3,444.0 L925.5,447.3" />
<path class="f" d="M924.1,441.6 L931.3,444.5" />
<path class="f" d="M932.8,441.6 L939.0,445.4" />
<path class="f" d="M922.2,454.1 L927.5,456.5 L932.8,452.2 L936.6,452.7" />
<path class="f" d="M923.1,449.3 L927.0,448.8 L930.8,444.9 L933.3,441.6" />
<path class="f" d="M937.6,445.9 L947.7,450.2" />
<path class="f" d="M936.6,451.2 L945.3,455.1" />
<path class="f" d="M911.6,448.3 L912.5,449.3 L913.5,452.2" />
<path class="f" d="M938.6,445.9 L938.1,449.3 L934.7,452.7" />
</g></defs>
<use href="#padset"/>
<use href="#padset" transform="translate(144.5,222.3)"/>
<use href="#padset" transform="translate(225.3,222.3)"/>
<path class="l" d="M884,341.3 H906 M884,449 H906 M1098,385 H1117 M1093,414 H1112 M999.5,611 H1019 M859,167 H874.5 M782,259.5 H798"/>
<path d="M1105.7,366.7 L1110.4,363.9 L1113.1,366.2 L1119.6,390.7 L1121.5,393.5 L1128.9,397.7 L1130.7,396.3 L1136.3,380.6 L1135.8,378.7 L1131.7,381.0" fill="none" stroke="#222" stroke-width="2.4" stroke-linejoin="round" stroke-linecap="round"/>
<path d="M1105.7,366.7 L1110.4,363.9 L1113.1,366.2 L1119.6,390.7 L1121.5,393.5 L1128.9,397.7 L1130.7,396.3 L1136.3,380.6 L1135.8,378.7 L1131.7,381.0" fill="none" stroke="#fff" stroke-width="0.9" stroke-linejoin="round"/>
<path d="M1105.7,420.8 L1112.2,416.7 L1119.6,397.7 L1121.5,396.8 L1128.9,401.9 L1130.7,405.6 L1137.2,426.9 L1136.3,432.4 L1131.7,435.6" fill="none" stroke="#222" stroke-width="2.4" stroke-linejoin="round" stroke-linecap="round"/>
<path d="M1105.7,420.8 L1112.2,416.7 L1119.6,397.7 L1121.5,396.8 L1128.9,401.9 L1130.7,405.6 L1137.2,426.9 L1136.3,432.4 L1131.7,435.6" fill="none" stroke="#fff" stroke-width="0.9" stroke-linejoin="round"/>
<!-- 70_shoes.svg -->
<defs><g id="shoepair">
<path class="pw" d="M582.7,700.5 C580.7,704.1 579.2,703.7 576.0,712.5 C572.8,721.4 572.8,719.1 572.0,729.9 C571.2,740.8 570.5,737.8 573.4,748.7 C576.2,759.5 575.0,758.0 581.4,766.1 C587.8,774.1 585.5,772.2 594.8,775.4 C604.0,778.6 602.5,777.6 612.2,776.8 C621.8,776.0 621.3,776.0 626.9,772.8 C632.5,769.5 629.7,768.1 630.9,766.1 L630.9,766.1 C630.7,765.7 628.7,762.5 628.2,762.1 C627.8,761.6 625.7,761.2 625.5,760.7 C625.4,760.3 627.0,757.3 626.9,756.7 C626.8,756.1 624.6,754.5 624.2,754.0 C623.8,753.6 623.0,750.7 621.5,751.3 C620.1,752.0 608.8,761.4 606.8,762.1 C604.8,762.7 598.9,760.3 597.4,759.4 C596.0,758.5 590.2,753.1 589.4,751.3 C588.6,749.6 588.0,740.2 588.1,738.0 C588.2,735.7 590.1,726.7 590.7,724.6 C591.4,722.5 595.4,714.2 596.1,712.5 C596.8,710.9 598.0,705.7 598.8,704.5 C599.6,703.3 605.0,698.7 605.5,697.8 C605.9,696.9 604.1,694.5 604.1,693.8 C604.1,693.1 605.1,690.3 605.5,689.8 C605.8,689.2 608.3,687.9 608.1,687.1 C608.0,686.3 604.8,680.9 604.1,680.4 C603.5,680.0 600.9,681.1 600.1,681.8 C599.3,682.4 595.3,687.7 594.8,688.5 C594.2,689.2 594.1,690.5 593.4,691.1 C592.8,691.8 587.6,695.7 586.7,696.5 C585.8,697.3 583.1,700.2 582.7,700.5Z"/>
<path class="f" d="M581.4,703.2 C579.2,708.5 577.4,708.5 574.7,719.2 C572.0,729.9 572.9,724.6 573.4,735.3 C573.8,746.0 572.0,741.5 576.0,751.3 C580.0,761.2 578.3,757.6 585.4,764.7 C592.5,771.9 588.5,769.6 597.4,772.8 C606.4,775.9 602.3,775.4 612.2,774.1 C622.0,772.8 622.0,770.5 626.9,768.7" />
<path class="f" d="M580.0,704.5 L594.8,709.9" />
<ellipse class="f" cx="618.2" cy="761.4" rx="2.4" ry="1.6" transform="rotate(-30 618.2 761.4)"/>
<ellipse class="f" cx="592.8" cy="757.4" rx="2.0" ry="2.7" transform="rotate(0 592.8 757.4)"/>
<path class="f" d="M594.8,693.8 L596.8,699.2 L594.8,703.2" />
<path class="pw" d="M626.9,663.0 C630.9,662.4 631.8,659.8 640.3,661.0 C648.7,662.2 647.0,662.0 655.0,667.0 C663.0,672.1 661.8,669.3 667.0,677.7 C672.2,686.2 671.2,683.9 672.4,695.1 C673.6,706.4 673.4,703.2 671.0,715.2 C668.6,727.3 668.8,725.3 664.3,735.3 C659.9,745.3 662.7,741.4 656.3,748.7 C649.9,755.9 647.0,756.2 642.9,759.4 L642.9,759.4 C642.6,759.2 639.5,757.1 638.9,756.7 C638.4,756.3 636.4,754.6 636.2,754.0 C636.1,753.5 637.7,750.5 637.6,750.0 C637.5,749.6 635.0,749.5 634.9,748.7 C634.8,747.9 635.6,741.8 636.2,740.6 C636.9,739.5 641.8,736.5 642.9,735.3 C644.1,734.1 648.7,727.9 649.6,725.9 C650.5,723.9 653.3,713.8 653.6,711.2 C654.0,708.6 653.9,697.4 653.6,695.1 C653.4,692.9 651.9,685.8 651.0,684.4 C650.1,683.1 644.5,679.2 642.9,679.1 C641.4,679.0 633.8,682.4 632.2,683.1 C630.7,683.8 625.4,686.9 624.2,687.1 C623.0,687.3 618.2,686.2 617.5,685.8 C616.8,685.3 616.6,682.2 616.2,681.8 C615.8,681.3 613.1,681.0 612.8,680.4 C612.6,679.8 612.7,675.4 613.5,674.4 C614.3,673.4 621.7,669.3 622.9,668.4 C624.0,667.4 626.5,663.5 626.9,663.0Z"/>
<path class="f" d="M632.2,665.7 C639.8,668.4 643.4,666.6 655.0,673.7 C666.6,680.9 662.1,676.4 667.0,687.1 C671.9,697.8 670.1,692.5 669.7,705.8 C669.3,719.2 669.7,714.3 665.7,727.3 C661.7,740.2 663.5,735.7 657.7,744.7 C651.9,753.6 651.4,750.9 648.3,754.0" />
<ellipse class="f" cx="659.0" cy="699.2" rx="2.0" ry="3.2" transform="rotate(20 659.0 699.2)"/>
<ellipse class="f" cx="644.3" cy="739.3" rx="2.9" ry="1.9" transform="rotate(-30 644.3 739.3)"/>
<path class="f" d="M640.3,671.1 L649.6,671.1 L651.0,674.4 L641.6,675.1 L640.3,671.1" />
<path class="f" d="M664.3,685.8 L669.7,689.8 L669.7,693.8 L665.7,692.5" />
</g></defs>
<use href="#shoepair"/>
<use href="#shoepair" transform="translate(83,46)"/>
<path class="l" d="M660.5,642.5 V652.5"/>
<!-- 80_lbox.svg -->
<g id="lbox">
<path class="d" d="M59.4,477.2 L93.5,496.7 M105.3,503.6 L174.7,542.5 M121.25,577.2 L150,595"/>
<path class="pw" d="M62.9,500.8 C63.1,499.2 65.1,498.5 66.4,499.4 C67.7,500.4 69.2,505.0 70.6,506.4 C71.9,507.8 72.4,508.7 74.7,507.8 C77.0,506.9 81.4,502.5 84.4,500.8 C87.5,499.2 90.9,499.2 92.8,498.1 C94.6,496.9 93.7,495.7 95.6,493.9 C97.4,492.0 99.5,491.1 103.9,486.9 C108.3,482.8 117.8,472.4 121.9,468.9 C126.1,465.4 126.8,466.3 128.9,466.1 C131.0,465.9 133.3,466.6 134.4,467.5 C135.6,468.4 136.1,470.0 135.8,471.7 C135.6,473.3 134.2,475.9 133.1,477.2 C131.9,478.5 130.3,479.5 128.9,479.3 C127.5,479.1 128.7,473.6 124.7,475.8 C120.8,478.0 108.8,488.3 105.3,492.5 C101.8,496.7 103.9,499.0 103.9,500.8 C103.9,502.7 106.2,502.0 105.3,503.6 C104.4,505.2 100.4,509.2 98.3,510.6 C96.2,511.9 94.4,510.6 92.8,511.9 C91.2,513.3 90.9,517.2 88.6,518.9 C86.3,520.6 81.7,522.6 78.9,522.4 C76.1,522.1 74.3,519.7 71.9,517.5 C69.6,515.3 66.5,511.9 65.0,509.2 C63.5,506.4 62.7,502.5 62.9,500.8Z" style="stroke-width:1.1"/>
<ellipse class="f" cx="99.7" cy="500.8" rx="1.4" ry="1.7" transform="rotate(0 99.7 500.8)"/>
<ellipse class="f" cx="131.0" cy="473.1" rx="1.4" ry="1.7" transform="rotate(0 131.0 473.1)"/>
<path class="f" d="M74.7,513.3 C78.4,511.5 78.9,511.0 85.8,507.8 C92.8,504.5 92.3,505.0 95.6,503.6" />
<path class="f" d="M75.4,516.1 C78.9,514.3 79.6,513.3 85.8,510.6 C92.1,507.8 91.4,508.7 94.2,507.8" />
<path class="f" d="M68.5,505.0 L72.6,514.7" />
<g transform="rotate(30 52 473)"><path class="pw" d="M47,469 h7 l2,3 v3 l-2,3 h-7 l-2,-3 v-3 Z"/><rect class="pw" x="56" y="470.5" width="7" height="5"/><path class="f" d="M58.5,470.5 v5 M61,470.5 v5 M50,469 v9"/></g>
<path class="pw" d="M146.9,516.1 C150.7,511.8 160.3,502.8 165.0,499.4 C169.7,496.1 169.0,498.3 170.6,499.4 C172.1,500.6 175.7,500.3 172.6,505.0 C169.6,509.7 159.9,519.2 155.3,523.1 C150.7,526.9 151.5,524.9 149.7,524.4 C147.9,524.0 146.8,522.6 146.2,521.0 C145.7,519.3 143.2,520.4 146.9,516.1Z" style="stroke-width:1.1"/>
<path class="f" d="M149.7,518.9 C152.6,515.5 161.2,507.4 165.0,504.3 C168.8,501.2 167.6,503.1 168.5,503.6 C169.3,504.2 172.1,503.6 169.2,507.1 C166.2,510.6 157.6,518.1 153.9,521.0 C150.1,523.8 151.2,521.8 150.4,521.4 C149.6,521.0 146.8,522.3 149.7,518.9Z" />
<path class="f" d="M162.2,511.9 L167.8,507.8 L169.9,511.2 L164.3,516.1 L162.2,511.9" />
<g transform="rotate(28 104 568)"><path class="pw" d="M100,564 h6 v8 h-6 Z"/><rect class="pw" x="106" y="566.5" width="14" height="3"/><rect class="pw" x="119" y="565.5" width="3" height="5" rx="1.2"/></g>
<path class="l" d="M56.4,453 V471 M93.8,512 V531 M166.7,481 V499 M111.6,571.5 V591.3 M155.5,391 V403 M205,686.8 V705"/>
</g>
<!-- 81_lbox2.svg -->
<g id="lbox2">
<path class="pw" d="M331.7,600.7 C331.9,599.9 333.9,599.1 334.8,599.3 C335.7,599.4 337.6,601.4 338.5,602.0 C339.4,602.6 340.2,603.8 341.6,603.8 C343.0,603.8 347.8,601.8 349.0,602.0 C350.2,602.1 349.8,604.5 350.9,605.1 C351.9,605.6 355.7,606.7 357.0,606.3 C358.4,605.9 359.9,602.9 360.7,602.0 C361.6,601.0 362.3,599.6 363.2,599.3 C364.1,598.9 366.8,598.8 367.5,599.3 C368.3,599.7 368.1,602.2 368.8,602.6 C369.4,603.0 371.6,601.6 372.5,602.0 C373.3,602.3 375.7,603.4 374.9,605.1 C374.2,606.7 368.1,612.6 366.9,614.3 C365.7,616.0 367.2,616.4 365.7,618.0 C364.2,619.7 357.4,624.9 355.8,626.7 C354.2,628.5 354.5,630.5 353.3,631.6 C352.2,632.7 348.6,634.7 347.2,634.7 C345.8,634.7 343.5,632.6 342.8,631.6 C342.2,630.6 343.0,627.9 342.2,627.3 C341.5,626.7 338.2,627.7 337.3,627.3 C336.4,626.9 334.0,626.1 335.4,624.2 C336.9,622.3 346.7,614.9 348.4,613.1 C350.1,611.3 349.2,610.9 348.4,610.6 C347.6,610.3 343.9,610.9 342.2,610.6 C340.6,610.3 337.2,608.8 336.0,608.1 C334.9,607.5 334.2,606.7 333.6,605.7 C333.0,604.7 331.6,601.6 331.7,600.7Z" style="stroke-width:1.1"/>
<ellipse class="f" cx="345.9" cy="626.0" rx="2.5" ry="2.2" transform="rotate(0 345.9 626.0)"/>
<ellipse class="f" cx="334.8" cy="601.4" rx="1.2" ry="1.2" transform="rotate(0 334.8 601.4)"/>
<path class="f" d="M344.7,615.6 L355.8,621.7" />
<path class="f" d="M357.0,606.9 L368.1,611.9" />
<path class="f" d="M365.7,600.7 L366.3,603.2 L368.8,602.6" />
<path class="f" d="M348.4,613.1 L365.7,618.0" />
<path class="pw" d="M365.7,625.4 L369.4,622.3 L371.9,624.2 L377.4,632.8 L375.6,637.8 L371.2,640.9 L363.8,635.9 L367.5,632.8Z" style="stroke-width:1.1"/>
<path class="f" d="M367.5,632.8 L375.6,632.8" />
<ellipse class="f" cx="368.8" cy="627.3" rx="1.0" ry="1.0" transform="rotate(0 368.8 627.3)"/>
<g transform="rotate(30 401 646)"><path class="pw" d="M399,643.5 h4 l1.2,1.5 v2.5 l-1.2,1.5 h-4 Z"/><rect class="pw" x="393" y="644.5" width="6" height="3"/></g>
<path class="pw" d="M411.4,571.1 C413.6,570.4 412.8,568.5 418.8,568.9 C424.7,569.3 423.7,569.1 431.1,572.3 C438.5,575.6 436.8,573.8 443.5,579.8 C450.1,585.7 449.3,584.0 453.3,592.1 C457.4,600.2 456.3,597.3 457.0,606.9 C457.8,616.5 457.7,613.8 455.8,624.2 C454.0,634.6 454.6,632.2 450.9,641.5 C447.2,650.7 448.3,648.0 443.5,655.1 C438.6,662.1 439.3,661.2 434.8,664.9 C430.4,668.6 430.5,666.7 428.6,667.4 L428.6,667.4 C428.3,667.3 425.5,666.6 424.9,666.2 C424.4,665.8 422.5,662.9 422.5,662.5 C422.5,662.0 425.0,661.0 424.9,660.6 C424.9,660.2 422.2,658.1 421.9,657.5 C421.5,657.0 420.5,654.3 420.6,653.8 C420.8,653.4 423.7,652.3 423.7,652.0 C423.7,651.7 420.5,650.6 420.6,650.1 C420.7,649.7 424.1,647.1 424.9,646.4 C425.8,645.7 430.1,642.9 431.1,641.5 C432.1,640.0 436.6,631.3 437.3,629.1 C438.0,627.0 439.8,617.8 439.8,615.6 C439.8,613.3 438.0,604.0 437.3,602.0 C436.6,599.9 432.2,592.1 431.1,590.9 C430.0,589.6 424.9,587.3 423.7,587.2 C422.5,587.1 417.5,588.9 416.3,589.6 C415.1,590.3 409.7,595.6 408.9,595.8 C408.1,596.0 406.8,591.6 406.4,591.5 C406.0,591.3 404.5,593.9 404.0,594.0 C403.4,594.0 400.8,592.5 400.2,592.1 C399.7,591.7 398.0,589.7 397.8,589.0 C397.5,588.3 396.5,584.2 397.2,583.5 C397.8,582.7 404.4,580.9 405.2,580.4 C406.0,579.9 405.9,578.1 406.4,577.3 C406.9,576.5 410.9,571.6 411.4,571.1Z" style="stroke-width:1.1"/>
<path class="f" d="M413.8,572.3 C418.8,573.6 417.9,571.9 428.6,576.0 C439.3,580.2 437.7,577.7 445.9,584.7 C454.2,591.7 450.5,586.7 453.3,597.0 C456.2,607.3 455.4,603.2 454.6,615.6 C453.7,627.9 455.0,621.7 450.9,634.1 C446.7,646.4 448.0,643.1 442.2,652.6 C436.5,662.1 436.5,659.2 433.6,662.5" />
<ellipse class="f" cx="444.7" cy="608.1" rx="2.0" ry="2.2" transform="rotate(0 444.7 608.1)"/>
<path class="f" d="M426.2,579.8 L434.8,578.5 L436.0,582.2 L427.4,582.8 L426.2,579.8" />
<path class="f" d="M427.4,648.9 L432.3,646.4 L433.0,648.9 L428.0,651.4 L427.4,648.9" />
<path class="f" d="M449.6,592.1 L453.3,600.7 L452.1,603.2" />
<path class="pw" d="M297.4,663.2 C295.3,667.1 293.7,666.8 290.4,676.3 C287.2,685.8 287.5,684.6 286.6,694.8 C285.6,705.0 285.7,701.9 287.3,710.2 C289.0,718.6 287.8,715.6 292.0,722.6 C296.1,729.5 294.3,727.8 301.2,733.4 C308.2,739.0 306.3,738.8 315.1,741.1 C323.9,743.4 322.2,743.0 330.6,741.1 C338.9,739.3 338.0,738.2 342.9,734.9 C347.8,731.7 345.6,731.7 346.8,730.3 L346.8,730.3 C346.5,730.0 343.8,727.0 343.7,726.5 C343.5,725.9 345.3,724.6 345.2,724.1 C345.1,723.7 342.3,721.6 342.1,721.0 C341.9,720.5 343.2,718.6 342.9,718.0 C342.6,717.3 339.8,712.9 338.3,713.3 C336.7,713.7 326.3,721.7 324.4,722.6 C322.5,723.5 316.5,724.5 315.1,724.1 C313.7,723.8 308.4,719.1 307.4,718.0 C306.4,716.8 303.3,712.0 302.8,710.2 C302.3,708.4 301.1,698.4 301.2,696.4 C301.4,694.3 303.7,687.2 304.3,685.6 C304.9,683.9 307.4,677.7 308.2,676.3 C309.0,674.9 312.6,669.5 313.6,668.6 C314.6,667.6 320.1,665.4 320.5,664.7 C321.0,664.1 318.8,661.6 319.0,660.9 C319.2,660.2 322.4,657.0 322.8,656.2 C323.3,655.5 324.6,652.6 324.4,651.6 C324.1,650.6 320.5,645.0 319.8,644.7 C319.0,644.3 315.8,646.4 315.1,647.0 C314.5,647.6 312.4,651.0 312.0,651.6 C311.7,652.2 311.0,654.2 310.5,654.7 C310.0,655.2 306.6,657.3 305.9,657.8 C305.2,658.2 302.7,659.6 302.0,660.1 C301.3,660.5 297.8,662.9 297.4,663.2Z" style="stroke-width:1.1"/>
<path class="f" d="M295.1,670.1 C293.3,677.3 291.2,678.4 289.7,691.7 C288.1,705.1 288.1,699.4 290.4,710.2 C292.7,721.0 291.5,716.4 296.6,724.1 C301.7,731.9 298.1,728.8 305.9,733.4 C313.6,738.0 310.5,737.0 319.8,738.0 C329.0,739.1 325.4,739.1 333.6,736.5 C341.9,733.9 340.8,732.4 344.4,730.3" />
<path class="f" d="M296.6,667.0 L309.0,673.2" />
<ellipse class="f" cx="332.9" cy="724.1" rx="2.5" ry="1.5" transform="rotate(-30 332.9 724.1)"/>
<ellipse class="f" cx="307.4" cy="719.5" rx="2.3" ry="3.1" transform="rotate(0 307.4 719.5)"/>
<path class="f" d="M309.0,657.8 L311.3,660.9 L309.7,663.2" />
<g transform="rotate(-30 375 697)"><rect class="pw" x="362" y="693" width="26" height="8" rx="3"/><rect class="pw" x="372" y="691.5" width="5" height="11" rx="1"/><ellipse class="f" cx="364" cy="697" rx="2" ry="4"/></g>
<path class="pw" d="M358.3,753.5 L363.7,748.8 L368.4,751.9 L373.8,761.2 L367.6,767.3 L361.4,762.7Z" style="stroke-width:1.1"/>
<ellipse class="f" cx="364.5" cy="756.5" rx="1.5" ry="1.9" transform="rotate(0 364.5 756.5)"/>
<path class="f" d="M361.4,762.7 L366.0,758.1" />
<path class="pw" d="M507.3,645.6 L516.7,643 L519.4,659 L511.3,663 L508.7,656.3 Z" style="stroke-width:1.1"/><path class="f" d="M510,649 l6,-2 M511,652 v5"/>
<path d="M423.5,704.5 C423.0,705.1 421.3,706.3 421.0,707.5 C420.7,708.7 421.1,709.8 422.0,710.3 C422.9,710.8 422.5,712.3 425.5,710.0 C428.5,707.7 434.8,701.2 437.1,699.0" fill="none" stroke="#333" stroke-width="1.8" stroke-linecap="round"/>
<path d="M423.5,704.5 C423.0,705.1 421.3,706.3 421.0,707.5 C420.7,708.7 421.1,709.8 422.0,710.3 C422.9,710.8 422.5,712.3 425.5,710.0 C428.5,707.7 434.8,701.2 437.1,699.0" fill="none" stroke="#fff" stroke-width="0.5"/>
<path d="M449.0,690.0 L458.0,680.0" fill="none" stroke="#333" stroke-width="1.8" stroke-linecap="round"/>
<path d="M449.0,690.0 L458.0,680.0" fill="none" stroke="#fff" stroke-width="0.5"/>
<path d="M471.0,671.5 C472.3,669.4 476.2,663.6 477.5,661.0 C478.8,658.4 478.4,658.9 477.5,658.5 C476.6,658.1 473.9,658.9 473.0,659.0" fill="none" stroke="#333" stroke-width="1.8" stroke-linecap="round"/>
<path d="M471.0,671.5 C472.3,669.4 476.2,663.6 477.5,661.0 C478.8,658.4 478.4,658.9 477.5,658.5 C476.6,658.1 473.9,658.9 473.0,659.0" fill="none" stroke="#fff" stroke-width="0.5"/>
<g transform="translate(437.1,699.0) rotate(-33.9)">
<rect class="pw" x="0" y="-4.2" width="16.1" height="8.5" rx="1.5" style="stroke-width:1"/>
<path class="f" d="M2.0,-4.2 l-1.2,8.5" style="stroke-width:0.6"/>
<path class="f" d="M4.0,-4.2 l-1.2,8.5" style="stroke-width:0.6"/>
<path class="f" d="M6.1,-4.2 l-1.2,8.5" style="stroke-width:0.6"/>
<path class="f" d="M8.1,-4.2 l-1.2,8.5" style="stroke-width:0.6"/>
<path class="f" d="M10.1,-4.2 l-1.2,8.5" style="stroke-width:0.6"/>
<path class="f" d="M12.1,-4.2 l-1.2,8.5" style="stroke-width:0.6"/>
<path class="f" d="M14.1,-4.2 l-1.2,8.5" style="stroke-width:0.6"/>
</g>
<g transform="translate(457.5,681.0) rotate(-35.5)">
<rect class="pw" x="0" y="-4.2" width="17.2" height="8.5" rx="1.5" style="stroke-width:1"/>
<path class="f" d="M2.2,-4.2 l-1.2,8.5" style="stroke-width:0.6"/>
<path class="f" d="M4.3,-4.2 l-1.2,8.5" style="stroke-width:0.6"/>
<path class="f" d="M6.5,-4.2 l-1.2,8.5" style="stroke-width:0.6"/>
<path class="f" d="M8.6,-4.2 l-1.2,8.5" style="stroke-width:0.6"/>
<path class="f" d="M10.8,-4.2 l-1.2,8.5" style="stroke-width:0.6"/>
<path class="f" d="M12.9,-4.2 l-1.2,8.5" style="stroke-width:0.6"/>
<path class="f" d="M15.1,-4.2 l-1.2,8.5" style="stroke-width:0.6"/>
</g>
<path d="M457.5,750.5 C457.3,751.2 456.1,753.1 456.5,754.0 C456.9,754.9 457.4,756.3 459.5,755.0 C461.6,753.7 465.5,749.0 467.0,747.5" fill="none" stroke="#333" stroke-width="1.8" stroke-linecap="round"/>
<path d="M457.5,750.5 C457.3,751.2 456.1,753.1 456.5,754.0 C456.9,754.9 457.4,756.3 459.5,755.0 C461.6,753.7 465.5,749.0 467.0,747.5" fill="none" stroke="#fff" stroke-width="0.5"/>
<path d="M480.6,739.4 C481.5,737.7 484.1,733.2 485.0,731.0 C485.9,728.8 486.0,728.9 485.0,728.5 C484.0,728.1 481.0,728.9 480.0,729.0" fill="none" stroke="#333" stroke-width="1.8" stroke-linecap="round"/>
<path d="M480.6,739.4 C481.5,737.7 484.1,733.2 485.0,731.0 C485.9,728.8 486.0,728.9 485.0,728.5 C484.0,728.1 481.0,728.9 480.0,729.0" fill="none" stroke="#fff" stroke-width="0.5"/>
<g transform="translate(467.0,747.5) rotate(-32.7)">
<rect class="pw" x="0" y="-3.8" width="16.6" height="7.5" rx="1.5" style="stroke-width:1"/>
<path class="f" d="M2.1,-3.8 l-1.2,7.5" style="stroke-width:0.6"/>
<path class="f" d="M4.2,-3.8 l-1.2,7.5" style="stroke-width:0.6"/>
<path class="f" d="M6.2,-3.8 l-1.2,7.5" style="stroke-width:0.6"/>
<path class="f" d="M8.3,-3.8 l-1.2,7.5" style="stroke-width:0.6"/>
<path class="f" d="M10.4,-3.8 l-1.2,7.5" style="stroke-width:0.6"/>
<path class="f" d="M12.5,-3.8 l-1.2,7.5" style="stroke-width:0.6"/>
<path class="f" d="M14.6,-3.8 l-1.2,7.5" style="stroke-width:0.6"/>
</g>
<path class="d" d="M232,636 L279.3,669.3 L248.5,688.2 L288.8,711.9 M445,607.7 L506.5,645.6 M378.7,629 L398,641 M307.7,721.4 L359.8,754.5"/>
<path class="l" d="M346.8,582 V602.8 M367.6,637.6 V659.8 M403,648 V671 M514.8,660 V681 M377.6,699 V725.9 M440.4,700 V725 M475.8,744.6 V768.7 M365.5,762 V786"/>
</g>

<g class="t">
<text transform="translate(489.0,134.0) scale(0.975,1)">58389</text>
<text transform="translate(515.4,153.0) scale(0.975,1)">1360JD</text>
<text transform="translate(530.4,240.3) scale(0.975,1)">58411B</text>
<text transform="translate(728.0,254.7) scale(0.975,1)">58210A</text>
<text transform="translate(738.0,271.1) scale(0.975,1)">58230</text>
<text transform="translate(576.6,460.2) scale(0.975,1)">1220FS</text>
<text transform="translate(129.7,369.6) scale(0.975,1)">58250D</text>
<text transform="translate(129.7,385.9) scale(0.975,1)">58250R</text>
<text transform="translate(881.5,62.2) scale(0.975,1)">58163B</text>
<text transform="translate(945.7,68.0) scale(0.975,1)">58120</text>
<text transform="translate(1022.7,77.8) scale(0.975,1)">58314</text>
<text transform="translate(1021.2,102.9) scale(0.975,1)">58125</text>
<text transform="translate(1027.4,143.4) scale(0.975,1)">58222</text>
<text transform="translate(804.7,162.6) scale(0.975,1)">58310A</text>
<text transform="translate(814.4,179.0) scale(0.975,1)">58311</text>
<text transform="translate(1075.5,168.0) scale(0.975,1)">58164E</text>
<text transform="translate(935.4,272.7) scale(0.975,1)">58221</text>
<text transform="translate(1038.3,272.7) scale(0.975,1)">58232</text>
<text transform="translate(1070.2,292.8) scale(0.975,1)">58233</text>
<text transform="translate(987.3,308.8) scale(0.975,1)">58164E</text>
<text transform="translate(832.1,347.5) scale(0.975,1)">58244A</text>
<text transform="translate(1053.6,391.4) scale(0.975,1)">58131</text>
<text transform="translate(1048.5,419.9) scale(0.975,1)">58131</text>
<text transform="translate(832.6,455.3) scale(0.975,1)">58244A</text>
<text transform="translate(954.9,616.5) scale(0.975,1)">58302</text>
<text transform="translate(640.0,638.4) scale(0.975,1)">58305</text>
<text transform="translate(31.2,447.0) scale(0.975,1)">58394A</text>
<text transform="translate(141.5,479.3) scale(0.975,1)">C24018</text>
<text transform="translate(67.4,542.5) scale(0.975,1)">58235</text>
<text transform="translate(67.4,556.0) scale(0.975,1)">58236A</text>
<text transform="translate(85.9,602.8) scale(0.975,1)">58323</text>
<text transform="translate(179.7,717.0) scale(0.975,1)">58251A</text>
<text transform="translate(179.7,731.0) scale(0.975,1)">58252A</text>
<text transform="translate(323.1,580.1) scale(0.975,1)">58257B</text>
<text transform="translate(345.0,671.0) scale(0.975,1)">58266</text>
<text transform="translate(383.3,682.5) scale(0.975,1)">59833</text>
<text transform="translate(489.7,691.9) scale(0.975,1)">58322B</text>
<text transform="translate(353.3,736.6) scale(0.975,1)">58254A</text>
<text transform="translate(420.7,736.6) scale(0.975,1)">58268</text>
<text transform="translate(449.3,780.0) scale(0.975,1)">58255B</text>
<text transform="translate(339.9,798.0) scale(0.975,1)">58322B</text>
</g>
<rect x="1032.2" y="255" width="56.6" height="26" fill="rgba(235,30,30,0.5)"/>
<rect x="0" y="848" width="1245" height="124" fill="#666"/>
<g font-size="50" fill="#fff">
<text transform="translate(174.1,933) scale(0.921,1)">HYUNDAI</text>
<text transform="translate(403.1,933) scale(0.952,1)">KIA</text>
<text transform="translate(492.5,933) scale(0.9,1)">-</text>
<text transform="translate(520.1,933) scale(0.972,1)">582324D000</text>
<text transform="translate(858.4,933) scale(0.95,1)">N</text>
<text transform="translate(904.6,933) scale(0.9,1)">-</text>
<text transform="translate(933.4,933) scale(0.984,1)">58232</text>
</g>
</svg>
</body></html>
